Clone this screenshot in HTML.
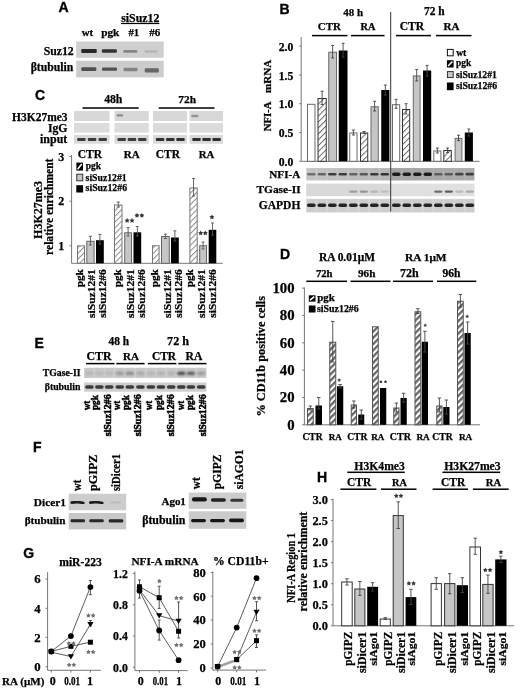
<!DOCTYPE html>
<html><head><meta charset="utf-8"><style>
html,body{margin:0;padding:0;background:#fff;}
svg{display:block;will-change:transform;}
</style></head><body>
<svg width="520" height="691" viewBox="0 0 520 691">
<defs>
<pattern id="hC" patternUnits="userSpaceOnUse" width="4.1" height="4.1" patternTransform="rotate(45)">
<rect width="4.1" height="4.1" fill="#fff"/><rect x="0" width="1" height="4.1" fill="#8c8c8c"/></pattern>
<pattern id="hB" patternUnits="userSpaceOnUse" width="4.2" height="4.2" patternTransform="rotate(45)">
<rect width="4.2" height="4.2" fill="#fff"/><rect x="0" width="1" height="4.2" fill="#6a6a6a"/></pattern>
<pattern id="hD" patternUnits="userSpaceOnUse" width="4.4" height="4.4" patternTransform="rotate(45)">
<rect width="4.4" height="4.4" fill="#fff"/><rect x="0" width="2.3" height="4.4" fill="#666"/></pattern>
<pattern id="hL" patternUnits="userSpaceOnUse" width="3.5" height="3.5" patternTransform="rotate(45)">
<rect width="3.5" height="3.5" fill="#000"/><rect x="0" width="1.3" height="3.5" fill="#fff"/></pattern>
<filter id="bl" x="-50%" y="-100%" width="200%" height="300%"><feGaussianBlur stdDeviation="0.7"/></filter>
<filter id="bl2" x="-50%" y="-100%" width="200%" height="300%"><feGaussianBlur stdDeviation="1.3"/></filter>
<filter id="bl0" x="-20%" y="-20%" width="140%" height="140%"><feGaussianBlur stdDeviation="0.5"/></filter>
</defs>
<rect width="520" height="691" fill="#fff"/>
<text x="58.40" y="12.20" style="font-family:'Liberation Sans',sans-serif;font-weight:bold;stroke:currentColor;stroke-width:0.35px;font-size:14px;color:#000" fill="#000" text-anchor="start">A</text>
<text x="121.19" y="21.60" style="font-family:'Liberation Serif',serif;font-weight:bold;stroke:currentColor;stroke-width:0.25px;font-size:11.86px;color:#000" fill="#000" text-anchor="start">siSuz12</text>
<rect x="121.00" y="22.90" width="38.40" height="1.20" fill="#000"/>
<text x="81.77" y="36.40" style="font-family:'Liberation Serif',serif;font-weight:bold;stroke:currentColor;stroke-width:0.25px;font-size:10.88px;color:#000" fill="#000" text-anchor="start">wt</text>
<text x="101.16" y="36.40" style="font-family:'Liberation Serif',serif;font-weight:bold;stroke:currentColor;stroke-width:0.25px;font-size:11.26px;color:#000" fill="#000" text-anchor="start">pgk</text>
<text x="128.46" y="36.40" style="font-family:'Liberation Serif',serif;font-weight:bold;stroke:currentColor;stroke-width:0.25px;font-size:10.8px;color:#000" fill="#000" text-anchor="start">#1</text>
<text x="149.15" y="36.40" style="font-family:'Liberation Serif',serif;font-weight:bold;stroke:currentColor;stroke-width:0.25px;font-size:11.07px;color:#000" fill="#000" text-anchor="start">#6</text>
<text x="43.67" y="55.20" style="font-family:'Liberation Serif',serif;font-weight:bold;stroke:currentColor;stroke-width:0.25px;font-size:11.75px;color:#000" fill="#000" text-anchor="start">Suz12</text>
<text x="30.64" y="71.30" style="font-family:'Liberation Serif',serif;font-weight:bold;stroke:currentColor;stroke-width:0.25px;font-size:11.74px;color:#000" fill="#000" text-anchor="start">βtubulin</text>
<rect x="76.20" y="41.50" width="87.50" height="16.30" fill="#cfcfcf" filter="url(#bl0)"/>
<rect x="76.20" y="60.70" width="87.50" height="16.70" fill="#cccccc" filter="url(#bl0)"/>
<rect x="81.25" y="49.10" width="15.50" height="4.00" rx="1.00" fill="#1c1c1c" opacity="0.92" filter="url(#bl)"/>
<rect x="101.90" y="49.20" width="15.00" height="3.60" rx="1.00" fill="#222" opacity="0.9" filter="url(#bl)"/>
<rect x="123.30" y="49.90" width="14.00" height="2.80" rx="1.00" fill="#555" opacity="0.6" filter="url(#bl)"/>
<rect x="144.70" y="50.20" width="13.00" height="2.60" rx="1.00" fill="#888" opacity="0.35" filter="url(#bl)"/>
<rect x="81.30" y="67.20" width="15.00" height="3.80" rx="1.00" fill="#333" opacity="0.8" filter="url(#bl)"/>
<rect x="102.00" y="67.40" width="15.00" height="3.40" rx="1.00" fill="#333" opacity="0.8" filter="url(#bl)"/>
<rect x="123.50" y="67.70" width="14.00" height="3.60" rx="1.00" fill="#555" opacity="0.6" filter="url(#bl)"/>
<rect x="144.80" y="68.20" width="14.00" height="4.20" rx="1.00" fill="#3a3a3a" opacity="0.7" filter="url(#bl)"/>
<text x="34.90" y="99.90" style="font-family:'Liberation Sans',sans-serif;font-weight:bold;stroke:currentColor;stroke-width:0.35px;font-size:14px;color:#000" fill="#000" text-anchor="start">C</text>
<text x="104.14" y="103.00" style="font-family:'Liberation Serif',serif;font-weight:bold;stroke:currentColor;stroke-width:0.25px;font-size:11.72px;color:#000" fill="#000" text-anchor="start">48h</text>
<text x="178.35" y="103.00" style="font-family:'Liberation Serif',serif;font-weight:bold;stroke:currentColor;stroke-width:0.25px;font-size:11.39px;color:#000" fill="#000" text-anchor="start">72h</text>
<rect x="82.50" y="107.25" width="56.20" height="1.50" fill="#000"/>
<rect x="158.70" y="107.25" width="55.80" height="1.50" fill="#000"/>
<text x="12.10" y="120.60" style="font-family:'Liberation Serif',serif;font-weight:bold;stroke:currentColor;stroke-width:0.25px;font-size:11.48px;color:#000" fill="#000" text-anchor="start">H3K27me3</text>
<text x="47.90" y="131.60" style="font-family:'Liberation Serif',serif;font-weight:bold;stroke:currentColor;stroke-width:0.25px;font-size:11.77px;color:#000" fill="#000" text-anchor="start">IgG</text>
<text x="40.04" y="143.00" style="font-family:'Liberation Serif',serif;font-weight:bold;stroke:currentColor;stroke-width:0.25px;font-size:11.94px;color:#000" fill="#000" text-anchor="start">input</text>
<rect x="74.00" y="111.00" width="35.50" height="10.00" fill="#d8d8d8" filter="url(#bl0)"/>
<rect x="74.00" y="123.00" width="35.50" height="9.50" fill="#dcdcdc" filter="url(#bl0)"/>
<rect x="74.00" y="135.00" width="35.50" height="8.70" fill="#d9d9d9" filter="url(#bl0)"/>
<rect x="77.20" y="137.90" width="8.40" height="3.20" rx="0.80" fill="#262626" opacity="0.88" filter="url(#bl)"/>
<rect x="87.85" y="137.90" width="8.40" height="3.20" rx="0.80" fill="#262626" opacity="0.88" filter="url(#bl)"/>
<rect x="98.50" y="137.90" width="8.40" height="3.20" rx="0.80" fill="#262626" opacity="0.88" filter="url(#bl)"/>
<rect x="114.50" y="111.00" width="34.30" height="10.00" fill="#d8d8d8" filter="url(#bl0)"/>
<rect x="114.50" y="123.00" width="34.30" height="9.50" fill="#dcdcdc" filter="url(#bl0)"/>
<rect x="114.50" y="135.00" width="34.30" height="8.70" fill="#d9d9d9" filter="url(#bl0)"/>
<rect x="117.46" y="137.90" width="8.40" height="3.20" rx="0.80" fill="#262626" opacity="0.88" filter="url(#bl)"/>
<rect x="127.75" y="137.90" width="8.40" height="3.20" rx="0.80" fill="#262626" opacity="0.88" filter="url(#bl)"/>
<rect x="138.04" y="137.90" width="8.40" height="3.20" rx="0.80" fill="#262626" opacity="0.88" filter="url(#bl)"/>
<rect x="153.00" y="111.00" width="34.00" height="10.00" fill="#d8d8d8" filter="url(#bl0)"/>
<rect x="153.00" y="123.00" width="34.00" height="9.50" fill="#dcdcdc" filter="url(#bl0)"/>
<rect x="153.00" y="135.00" width="34.00" height="8.70" fill="#d9d9d9" filter="url(#bl0)"/>
<rect x="155.90" y="137.90" width="8.40" height="3.20" rx="0.80" fill="#262626" opacity="0.95" filter="url(#bl)"/>
<rect x="166.10" y="137.90" width="8.40" height="3.20" rx="0.80" fill="#262626" opacity="0.95" filter="url(#bl)"/>
<rect x="176.30" y="137.90" width="8.40" height="3.20" rx="0.80" fill="#262626" opacity="0.95" filter="url(#bl)"/>
<rect x="189.50" y="111.00" width="33.50" height="10.00" fill="#d8d8d8" filter="url(#bl0)"/>
<rect x="189.50" y="123.00" width="33.50" height="9.50" fill="#dcdcdc" filter="url(#bl0)"/>
<rect x="189.50" y="135.00" width="33.50" height="8.70" fill="#d9d9d9" filter="url(#bl0)"/>
<rect x="192.30" y="137.90" width="8.40" height="3.20" rx="0.80" fill="#262626" opacity="0.95" filter="url(#bl)"/>
<rect x="202.35" y="137.90" width="8.40" height="3.20" rx="0.80" fill="#262626" opacity="0.95" filter="url(#bl)"/>
<rect x="212.40" y="137.90" width="8.40" height="3.20" rx="0.80" fill="#262626" opacity="0.95" filter="url(#bl)"/>
<rect x="116.55" y="114.20" width="6.50" height="2.40" rx="0.80" fill="#444" opacity="0.5" filter="url(#bl)"/>
<rect x="191.30" y="114.80" width="7.00" height="2.40" rx="0.80" fill="#444" opacity="0.45" filter="url(#bl)"/>
<text x="77.74" y="157.50" style="font-family:'Liberation Serif',serif;font-weight:bold;stroke:currentColor;stroke-width:0.25px;font-size:11.54px;color:#000" fill="#000" text-anchor="start">CTR</text>
<text x="123.81" y="157.50" style="font-family:'Liberation Serif',serif;font-weight:bold;stroke:currentColor;stroke-width:0.25px;font-size:11.06px;color:#000" fill="#000" text-anchor="start">RA</text>
<text x="155.74" y="157.50" style="font-family:'Liberation Serif',serif;font-weight:bold;stroke:currentColor;stroke-width:0.25px;font-size:11.49px;color:#000" fill="#000" text-anchor="start">CTR</text>
<text x="198.72" y="157.50" style="font-family:'Liberation Serif',serif;font-weight:bold;stroke:currentColor;stroke-width:0.25px;font-size:10.78px;color:#000" fill="#000" text-anchor="start">RA</text>
<line x1="71.60" y1="155.00" x2="71.60" y2="263.30" stroke="#777" stroke-width="1"/>
<line x1="71.60" y1="263.30" x2="222.70" y2="263.30" stroke="#777" stroke-width="1"/>
<line x1="69.50" y1="156.50" x2="71.60" y2="156.50" stroke="#777" stroke-width="1"/>
<text x="64.30" y="160.60" style="font-family:'Liberation Serif',serif;font-weight:bold;stroke:currentColor;stroke-width:0.25px;font-size:12px;color:#000" fill="#000" text-anchor="end">3</text>
<line x1="69.50" y1="201.20" x2="71.60" y2="201.20" stroke="#777" stroke-width="1"/>
<text x="64.30" y="205.30" style="font-family:'Liberation Serif',serif;font-weight:bold;stroke:currentColor;stroke-width:0.25px;font-size:12px;color:#000" fill="#000" text-anchor="end">2</text>
<line x1="69.50" y1="245.80" x2="71.60" y2="245.80" stroke="#777" stroke-width="1"/>
<text x="64.30" y="249.90" style="font-family:'Liberation Serif',serif;font-weight:bold;stroke:currentColor;stroke-width:0.25px;font-size:12px;color:#000" fill="#000" text-anchor="end">1</text>
<text transform="translate(42.20,238.90) rotate(-90)" style="font-family:'Liberation Serif',serif;font-weight:bold;stroke:currentColor;stroke-width:0.25px;font-size:11.8px;color:#000" fill="#000" text-anchor="start" textLength="58.02" lengthAdjust="spacingAndGlyphs">H3K27me3</text>
<text transform="translate(53.00,254.90) rotate(-90)" style="font-family:'Liberation Serif',serif;font-weight:bold;stroke:currentColor;stroke-width:0.25px;font-size:11.5px;color:#000" fill="#000" text-anchor="start" textLength="96.36" lengthAdjust="spacingAndGlyphs">relative enrichment</text>
<rect x="76.40" y="162.60" width="6.60" height="8.00" fill="#000"/>
<line x1="77.60" y1="169.20" x2="81.80" y2="164.00" stroke="#fff" stroke-width="1.5"/>
<rect x="76.80" y="174.20" width="6.00" height="6.60" fill="#c6c6c6" stroke="#222" stroke-width="0.9"/>
<rect x="76.30" y="185.20" width="6.80" height="7.30" fill="#000"/>
<text x="85.78" y="168.90" style="font-family:'Liberation Serif',serif;font-weight:bold;stroke:currentColor;stroke-width:0.25px;font-size:9.39px;color:#000" fill="#000" text-anchor="start">pgk</text>
<text x="85.61" y="180.50" style="font-family:'Liberation Serif',serif;font-weight:bold;stroke:currentColor;stroke-width:0.25px;font-size:9.73px;color:#000" fill="#000" text-anchor="start">siSuz12#1</text>
<text x="85.60" y="191.40" style="font-family:'Liberation Serif',serif;font-weight:bold;stroke:currentColor;stroke-width:0.25px;font-size:9.82px;color:#000" fill="#000" text-anchor="start">siSuz12#6</text>
<rect x="77.50" y="245.90" width="7.00" height="17.40" fill="url(#hC)" stroke="#777" stroke-width="1"/>
<rect x="86.80" y="241.30" width="7.30" height="22.00" fill="#c6c6c6" stroke="#666" stroke-width="1"/>
<line x1="90.45" y1="236.30" x2="90.45" y2="245.00" stroke="#555" stroke-width="0.9"/>
<line x1="88.95" y1="236.30" x2="91.95" y2="236.30" stroke="#555" stroke-width="0.9"/>
<line x1="88.95" y1="245.00" x2="91.95" y2="245.00" stroke="#555" stroke-width="0.9"/>
<rect x="96.00" y="240.20" width="7.80" height="23.10" fill="#000"/>
<line x1="99.90" y1="234.40" x2="99.90" y2="244.00" stroke="#555" stroke-width="0.9"/>
<line x1="98.40" y1="234.40" x2="101.40" y2="234.40" stroke="#555" stroke-width="0.9"/>
<line x1="98.40" y1="244.00" x2="101.40" y2="244.00" stroke="#555" stroke-width="0.9"/>
<rect x="114.50" y="205.00" width="7.50" height="58.30" fill="url(#hC)" stroke="#777" stroke-width="1"/>
<line x1="118.25" y1="202.00" x2="118.25" y2="207.00" stroke="#555" stroke-width="0.9"/>
<line x1="116.75" y1="202.00" x2="119.75" y2="202.00" stroke="#555" stroke-width="0.9"/>
<line x1="116.75" y1="207.00" x2="119.75" y2="207.00" stroke="#555" stroke-width="0.9"/>
<rect x="124.70" y="232.80" width="6.80" height="30.50" fill="#c6c6c6" stroke="#666" stroke-width="1"/>
<line x1="128.10" y1="227.60" x2="128.10" y2="236.00" stroke="#555" stroke-width="0.9"/>
<line x1="126.60" y1="227.60" x2="129.60" y2="227.60" stroke="#555" stroke-width="0.9"/>
<line x1="126.60" y1="236.00" x2="129.60" y2="236.00" stroke="#555" stroke-width="0.9"/>
<rect x="133.50" y="232.30" width="7.70" height="31.00" fill="#000"/>
<line x1="137.35" y1="226.50" x2="137.35" y2="236.00" stroke="#555" stroke-width="0.9"/>
<line x1="135.85" y1="226.50" x2="138.85" y2="226.50" stroke="#555" stroke-width="0.9"/>
<line x1="135.85" y1="236.00" x2="138.85" y2="236.00" stroke="#555" stroke-width="0.9"/>
<rect x="152.50" y="245.70" width="6.60" height="17.60" fill="url(#hC)" stroke="#777" stroke-width="1"/>
<rect x="161.50" y="236.50" width="7.80" height="26.80" fill="#c6c6c6" stroke="#666" stroke-width="1"/>
<line x1="165.40" y1="234.20" x2="165.40" y2="238.50" stroke="#555" stroke-width="0.9"/>
<line x1="163.90" y1="234.20" x2="166.90" y2="234.20" stroke="#555" stroke-width="0.9"/>
<line x1="163.90" y1="238.50" x2="166.90" y2="238.50" stroke="#555" stroke-width="0.9"/>
<rect x="171.00" y="237.50" width="7.80" height="25.80" fill="#000"/>
<line x1="174.90" y1="230.80" x2="174.90" y2="241.00" stroke="#555" stroke-width="0.9"/>
<line x1="173.40" y1="230.80" x2="176.40" y2="230.80" stroke="#555" stroke-width="0.9"/>
<line x1="173.40" y1="241.00" x2="176.40" y2="241.00" stroke="#555" stroke-width="0.9"/>
<rect x="189.90" y="188.00" width="7.30" height="75.30" fill="url(#hC)" stroke="#777" stroke-width="1"/>
<line x1="193.55" y1="178.50" x2="193.55" y2="196.00" stroke="#555" stroke-width="0.9"/>
<line x1="192.05" y1="178.50" x2="195.05" y2="178.50" stroke="#555" stroke-width="0.9"/>
<line x1="192.05" y1="196.00" x2="195.05" y2="196.00" stroke="#555" stroke-width="0.9"/>
<rect x="199.70" y="245.70" width="6.80" height="17.60" fill="#c6c6c6" stroke="#666" stroke-width="1"/>
<line x1="203.10" y1="242.00" x2="203.10" y2="249.00" stroke="#555" stroke-width="0.9"/>
<line x1="201.60" y1="242.00" x2="204.60" y2="242.00" stroke="#555" stroke-width="0.9"/>
<line x1="201.60" y1="249.00" x2="204.60" y2="249.00" stroke="#555" stroke-width="0.9"/>
<rect x="208.70" y="229.80" width="7.60" height="33.50" fill="#000"/>
<line x1="212.50" y1="223.00" x2="212.50" y2="235.00" stroke="#555" stroke-width="0.9"/>
<line x1="211.00" y1="223.00" x2="214.00" y2="223.00" stroke="#555" stroke-width="0.9"/>
<line x1="211.00" y1="235.00" x2="214.00" y2="235.00" stroke="#555" stroke-width="0.9"/>
<polygon points="127.15,218.00 127.99,219.44 129.62,219.80 128.51,221.04 128.68,222.70 127.15,222.03 125.62,222.70 125.79,221.04 124.68,219.80 126.31,219.44" fill="#3a3a3a"/>
<polygon points="132.05,218.00 132.89,219.44 134.52,219.80 133.41,221.04 133.58,222.70 132.05,222.03 130.52,222.70 130.69,221.04 129.58,219.80 131.21,219.44" fill="#3a3a3a"/>
<polygon points="136.95,212.90 137.79,214.34 139.42,214.70 138.31,215.94 138.48,217.60 136.95,216.93 135.42,217.60 135.59,215.94 134.48,214.70 136.11,214.34" fill="#3a3a3a"/>
<polygon points="141.85,212.90 142.69,214.34 144.32,214.70 143.21,215.94 143.38,217.60 141.85,216.93 140.32,217.60 140.49,215.94 139.38,214.70 141.01,214.34" fill="#3a3a3a"/>
<polygon points="200.70,230.50 201.54,231.94 203.17,232.30 202.06,233.54 202.23,235.20 200.70,234.53 199.17,235.20 199.34,233.54 198.23,232.30 199.86,231.94" fill="#3a3a3a"/>
<polygon points="205.30,230.50 206.14,231.94 207.77,232.30 206.66,233.54 206.83,235.20 205.30,234.53 203.77,235.20 203.94,233.54 202.83,232.30 204.46,231.94" fill="#3a3a3a"/>
<polygon points="211.90,214.50 212.74,215.94 214.37,216.30 213.26,217.54 213.43,219.20 211.90,218.53 210.37,219.20 210.54,217.54 209.43,216.30 211.06,215.94" fill="#3a3a3a"/>
<text transform="translate(83.00,269.30) rotate(-90)" style="font-family:'Liberation Serif',serif;font-weight:bold;stroke:currentColor;stroke-width:0.25px;font-size:9.6px;color:#000" fill="#000" text-anchor="end" textLength="17.96" lengthAdjust="spacingAndGlyphs">pgk</text>
<text transform="translate(95.00,269.30) rotate(-90)" style="font-family:'Liberation Serif',serif;font-weight:bold;stroke:currentColor;stroke-width:0.25px;font-size:9.6px;color:#000" fill="#000" text-anchor="end" textLength="48.64" lengthAdjust="spacingAndGlyphs">siSuz12#1</text>
<text transform="translate(106.00,269.30) rotate(-90)" style="font-family:'Liberation Serif',serif;font-weight:bold;stroke:currentColor;stroke-width:0.25px;font-size:9.6px;color:#000" fill="#000" text-anchor="end" textLength="48.38" lengthAdjust="spacingAndGlyphs">siSuz12#6</text>
<text transform="translate(121.00,269.30) rotate(-90)" style="font-family:'Liberation Serif',serif;font-weight:bold;stroke:currentColor;stroke-width:0.25px;font-size:9.6px;color:#000" fill="#000" text-anchor="end" textLength="17.96" lengthAdjust="spacingAndGlyphs">pgk</text>
<text transform="translate(133.50,269.30) rotate(-90)" style="font-family:'Liberation Serif',serif;font-weight:bold;stroke:currentColor;stroke-width:0.25px;font-size:9.6px;color:#000" fill="#000" text-anchor="end" textLength="48.64" lengthAdjust="spacingAndGlyphs">siSuz12#1</text>
<text transform="translate(144.50,269.30) rotate(-90)" style="font-family:'Liberation Serif',serif;font-weight:bold;stroke:currentColor;stroke-width:0.25px;font-size:9.6px;color:#000" fill="#000" text-anchor="end" textLength="48.38" lengthAdjust="spacingAndGlyphs">siSuz12#6</text>
<text transform="translate(157.80,269.30) rotate(-90)" style="font-family:'Liberation Serif',serif;font-weight:bold;stroke:currentColor;stroke-width:0.25px;font-size:9.6px;color:#000" fill="#000" text-anchor="end" textLength="17.96" lengthAdjust="spacingAndGlyphs">pgk</text>
<text transform="translate(170.50,269.30) rotate(-90)" style="font-family:'Liberation Serif',serif;font-weight:bold;stroke:currentColor;stroke-width:0.25px;font-size:9.6px;color:#000" fill="#000" text-anchor="end" textLength="48.64" lengthAdjust="spacingAndGlyphs">siSuz12#1</text>
<text transform="translate(181.80,269.30) rotate(-90)" style="font-family:'Liberation Serif',serif;font-weight:bold;stroke:currentColor;stroke-width:0.25px;font-size:9.6px;color:#000" fill="#000" text-anchor="end" textLength="48.38" lengthAdjust="spacingAndGlyphs">siSuz12#6</text>
<text transform="translate(192.70,269.30) rotate(-90)" style="font-family:'Liberation Serif',serif;font-weight:bold;stroke:currentColor;stroke-width:0.25px;font-size:9.6px;color:#000" fill="#000" text-anchor="end" textLength="17.96" lengthAdjust="spacingAndGlyphs">pgk</text>
<text transform="translate(205.00,269.30) rotate(-90)" style="font-family:'Liberation Serif',serif;font-weight:bold;stroke:currentColor;stroke-width:0.25px;font-size:9.6px;color:#000" fill="#000" text-anchor="end" textLength="48.64" lengthAdjust="spacingAndGlyphs">siSuz12#1</text>
<text transform="translate(216.00,269.30) rotate(-90)" style="font-family:'Liberation Serif',serif;font-weight:bold;stroke:currentColor;stroke-width:0.25px;font-size:9.6px;color:#000" fill="#000" text-anchor="end" textLength="48.38" lengthAdjust="spacingAndGlyphs">siSuz12#6</text>
<text x="279.60" y="14.20" style="font-family:'Liberation Sans',sans-serif;font-weight:bold;stroke:currentColor;stroke-width:0.35px;font-size:14px;color:#000" fill="#000" text-anchor="start">B</text>
<text x="343.15" y="15.50" style="font-family:'Liberation Serif',serif;font-weight:bold;stroke:currentColor;stroke-width:0.25px;font-size:11.03px;color:#000" fill="#000" text-anchor="start">48 h</text>
<text x="424.05" y="15.00" style="font-family:'Liberation Serif',serif;font-weight:bold;stroke:currentColor;stroke-width:0.25px;font-size:11.42px;color:#000" fill="#000" text-anchor="start">72 h</text>
<text x="317.77" y="30.00" style="font-family:'Liberation Serif',serif;font-weight:bold;stroke:currentColor;stroke-width:0.25px;font-size:10.91px;color:#000" fill="#000" text-anchor="start">CTR</text>
<text x="360.62" y="30.00" style="font-family:'Liberation Serif',serif;font-weight:bold;stroke:currentColor;stroke-width:0.25px;font-size:10.28px;color:#000" fill="#000" text-anchor="start">RA</text>
<text x="399.73" y="29.80" style="font-family:'Liberation Serif',serif;font-weight:bold;stroke:currentColor;stroke-width:0.25px;font-size:11.59px;color:#000" fill="#000" text-anchor="start">CTR</text>
<text x="443.41" y="29.80" style="font-family:'Liberation Serif',serif;font-weight:bold;stroke:currentColor;stroke-width:0.25px;font-size:11.06px;color:#000" fill="#000" text-anchor="start">RA</text>
<rect x="312.00" y="34.85" width="35.50" height="1.50" fill="#000"/>
<rect x="351.00" y="34.85" width="33.50" height="1.50" fill="#000"/>
<rect x="396.00" y="34.85" width="35.00" height="1.50" fill="#000"/>
<rect x="436.00" y="34.85" width="35.50" height="1.50" fill="#000"/>
<line x1="301.20" y1="37.00" x2="301.20" y2="161.30" stroke="#777" stroke-width="1"/>
<line x1="301.20" y1="161.30" x2="479.60" y2="161.30" stroke="#777" stroke-width="1"/>
<line x1="299.20" y1="161.30" x2="301.20" y2="161.30" stroke="#777" stroke-width="1"/>
<text x="293.30" y="165.90" style="font-family:'Liberation Serif',serif;font-weight:bold;stroke:currentColor;stroke-width:0.25px;font-size:11.7px;color:#000" fill="#000" text-anchor="end">0.0</text>
<line x1="299.20" y1="132.50" x2="301.20" y2="132.50" stroke="#777" stroke-width="1"/>
<text x="293.30" y="137.10" style="font-family:'Liberation Serif',serif;font-weight:bold;stroke:currentColor;stroke-width:0.25px;font-size:11.7px;color:#000" fill="#000" text-anchor="end">0.5</text>
<line x1="299.20" y1="103.70" x2="301.20" y2="103.70" stroke="#777" stroke-width="1"/>
<text x="293.30" y="108.30" style="font-family:'Liberation Serif',serif;font-weight:bold;stroke:currentColor;stroke-width:0.25px;font-size:11.7px;color:#000" fill="#000" text-anchor="end">1.0</text>
<line x1="299.20" y1="74.90" x2="301.20" y2="74.90" stroke="#777" stroke-width="1"/>
<text x="293.30" y="79.50" style="font-family:'Liberation Serif',serif;font-weight:bold;stroke:currentColor;stroke-width:0.25px;font-size:11.7px;color:#000" fill="#000" text-anchor="end">1.5</text>
<line x1="299.20" y1="46.10" x2="301.20" y2="46.10" stroke="#777" stroke-width="1"/>
<text x="293.30" y="50.70" style="font-family:'Liberation Serif',serif;font-weight:bold;stroke:currentColor;stroke-width:0.25px;font-size:11.7px;color:#000" fill="#000" text-anchor="end">2.0</text>
<text transform="translate(271.00,131.30) rotate(-90)" style="font-family:'Liberation Serif',serif;font-weight:bold;stroke:currentColor;stroke-width:0.25px;font-size:10.8px;color:#000" fill="#000" text-anchor="start" textLength="29.68" lengthAdjust="spacingAndGlyphs">NFI-A</text>
<text transform="translate(271.00,92.90) rotate(-90)" style="font-family:'Liberation Serif',serif;font-weight:bold;stroke:currentColor;stroke-width:0.25px;font-size:10.8px;color:#000" fill="#000" text-anchor="start" textLength="33.18" lengthAdjust="spacingAndGlyphs">mRNA</text>
<rect x="307.50" y="104.30" width="7.50" height="57.00" fill="#fff" stroke="#6a6a6a" stroke-width="1"/>
<rect x="318.00" y="98.50" width="8.25" height="62.80" fill="url(#hB)" stroke="#333" stroke-width="1"/>
<line x1="322.12" y1="91.25" x2="322.12" y2="104.50" stroke="#444" stroke-width="0.9"/>
<line x1="320.62" y1="91.25" x2="323.62" y2="91.25" stroke="#444" stroke-width="0.9"/>
<line x1="320.62" y1="104.50" x2="323.62" y2="104.50" stroke="#444" stroke-width="0.9"/>
<rect x="328.75" y="52.25" width="7.75" height="109.05" fill="#c6c6c6" stroke="#6a6a6a" stroke-width="1"/>
<line x1="332.62" y1="45.50" x2="332.62" y2="58.00" stroke="#444" stroke-width="0.9"/>
<line x1="331.12" y1="45.50" x2="334.12" y2="45.50" stroke="#444" stroke-width="0.9"/>
<line x1="331.12" y1="58.00" x2="334.12" y2="58.00" stroke="#444" stroke-width="0.9"/>
<rect x="338.75" y="50.50" width="8.75" height="110.80" fill="#000"/>
<line x1="343.12" y1="43.30" x2="343.12" y2="57.00" stroke="#444" stroke-width="0.9"/>
<line x1="341.62" y1="43.30" x2="344.62" y2="43.30" stroke="#444" stroke-width="0.9"/>
<line x1="341.62" y1="57.00" x2="344.62" y2="57.00" stroke="#444" stroke-width="0.9"/>
<rect x="349.75" y="133.00" width="7.25" height="28.30" fill="#fff" stroke="#6a6a6a" stroke-width="1"/>
<line x1="353.38" y1="130.00" x2="353.38" y2="135.00" stroke="#444" stroke-width="0.9"/>
<line x1="351.88" y1="130.00" x2="354.88" y2="130.00" stroke="#444" stroke-width="0.9"/>
<line x1="351.88" y1="135.00" x2="354.88" y2="135.00" stroke="#444" stroke-width="0.9"/>
<rect x="360.50" y="133.00" width="7.25" height="28.30" fill="url(#hB)" stroke="#333" stroke-width="1"/>
<line x1="364.12" y1="131.50" x2="364.12" y2="133.50" stroke="#444" stroke-width="0.9"/>
<line x1="362.62" y1="131.50" x2="365.62" y2="131.50" stroke="#444" stroke-width="0.9"/>
<line x1="362.62" y1="133.50" x2="365.62" y2="133.50" stroke="#444" stroke-width="0.9"/>
<rect x="371.00" y="106.75" width="7.25" height="54.55" fill="#c6c6c6" stroke="#6a6a6a" stroke-width="1"/>
<line x1="374.62" y1="101.25" x2="374.62" y2="111.00" stroke="#444" stroke-width="0.9"/>
<line x1="373.12" y1="101.25" x2="376.12" y2="101.25" stroke="#444" stroke-width="0.9"/>
<line x1="373.12" y1="111.00" x2="376.12" y2="111.00" stroke="#444" stroke-width="0.9"/>
<rect x="381.25" y="90.00" width="8.15" height="71.30" fill="#000"/>
<line x1="385.32" y1="85.00" x2="385.32" y2="95.00" stroke="#444" stroke-width="0.9"/>
<line x1="383.82" y1="85.00" x2="386.82" y2="85.00" stroke="#444" stroke-width="0.9"/>
<line x1="383.82" y1="95.00" x2="386.82" y2="95.00" stroke="#444" stroke-width="0.9"/>
<rect x="392.50" y="104.70" width="7.20" height="56.60" fill="#fff" stroke="#6a6a6a" stroke-width="1"/>
<line x1="396.10" y1="99.40" x2="396.10" y2="108.30" stroke="#444" stroke-width="0.9"/>
<line x1="394.60" y1="99.40" x2="397.60" y2="99.40" stroke="#444" stroke-width="0.9"/>
<line x1="394.60" y1="108.30" x2="397.60" y2="108.30" stroke="#444" stroke-width="0.9"/>
<rect x="402.50" y="109.50" width="7.20" height="51.80" fill="url(#hB)" stroke="#333" stroke-width="1"/>
<line x1="406.10" y1="103.70" x2="406.10" y2="114.00" stroke="#444" stroke-width="0.9"/>
<line x1="404.60" y1="103.70" x2="407.60" y2="103.70" stroke="#444" stroke-width="0.9"/>
<line x1="404.60" y1="114.00" x2="407.60" y2="114.00" stroke="#444" stroke-width="0.9"/>
<rect x="413.30" y="75.90" width="6.80" height="85.40" fill="#c6c6c6" stroke="#6a6a6a" stroke-width="1"/>
<line x1="416.70" y1="69.50" x2="416.70" y2="81.00" stroke="#444" stroke-width="0.9"/>
<line x1="415.20" y1="69.50" x2="418.20" y2="69.50" stroke="#444" stroke-width="0.9"/>
<line x1="415.20" y1="81.00" x2="418.20" y2="81.00" stroke="#444" stroke-width="0.9"/>
<rect x="423.00" y="70.50" width="8.20" height="90.80" fill="#000"/>
<line x1="427.10" y1="65.40" x2="427.10" y2="76.00" stroke="#444" stroke-width="0.9"/>
<line x1="425.60" y1="65.40" x2="428.60" y2="65.40" stroke="#444" stroke-width="0.9"/>
<line x1="425.60" y1="76.00" x2="428.60" y2="76.00" stroke="#444" stroke-width="0.9"/>
<rect x="433.80" y="151.00" width="7.10" height="10.30" fill="#fff" stroke="#6a6a6a" stroke-width="1"/>
<line x1="437.35" y1="148.00" x2="437.35" y2="153.00" stroke="#444" stroke-width="0.9"/>
<line x1="435.85" y1="148.00" x2="438.85" y2="148.00" stroke="#444" stroke-width="0.9"/>
<line x1="435.85" y1="153.00" x2="438.85" y2="153.00" stroke="#444" stroke-width="0.9"/>
<rect x="443.80" y="150.50" width="7.50" height="10.80" fill="url(#hB)" stroke="#333" stroke-width="1"/>
<line x1="447.55" y1="148.00" x2="447.55" y2="152.50" stroke="#444" stroke-width="0.9"/>
<line x1="446.05" y1="148.00" x2="449.05" y2="148.00" stroke="#444" stroke-width="0.9"/>
<line x1="446.05" y1="152.50" x2="449.05" y2="152.50" stroke="#444" stroke-width="0.9"/>
<rect x="455.10" y="138.40" width="6.80" height="22.90" fill="#c6c6c6" stroke="#6a6a6a" stroke-width="1"/>
<line x1="458.50" y1="135.20" x2="458.50" y2="140.60" stroke="#444" stroke-width="0.9"/>
<line x1="457.00" y1="135.20" x2="460.00" y2="135.20" stroke="#444" stroke-width="0.9"/>
<line x1="457.00" y1="140.60" x2="460.00" y2="140.60" stroke="#444" stroke-width="0.9"/>
<rect x="464.80" y="132.50" width="8.10" height="28.80" fill="#000"/>
<line x1="468.85" y1="129.00" x2="468.85" y2="136.00" stroke="#444" stroke-width="0.9"/>
<line x1="467.35" y1="129.00" x2="470.35" y2="129.00" stroke="#444" stroke-width="0.9"/>
<line x1="467.35" y1="136.00" x2="470.35" y2="136.00" stroke="#444" stroke-width="0.9"/>
<rect x="447.40" y="49.40" width="5.80" height="6.40" fill="#fff" stroke="#111" stroke-width="1"/>
<rect x="446.90" y="60.20" width="6.70" height="7.30" fill="#000"/>
<line x1="448.10" y1="66.10" x2="452.40" y2="61.60" stroke="#fff" stroke-width="1.5"/>
<rect x="447.40" y="71.60" width="5.80" height="6.00" fill="#c6c6c6" stroke="#222" stroke-width="0.9"/>
<rect x="446.90" y="82.50" width="6.70" height="7.70" fill="#000"/>
<text x="456.17" y="55.60" style="font-family:'Liberation Serif',serif;font-weight:bold;stroke:currentColor;stroke-width:0.25px;font-size:9.64px;color:#000" fill="#000" text-anchor="start">wt</text>
<text x="456.08" y="66.00" style="font-family:'Liberation Serif',serif;font-weight:bold;stroke:currentColor;stroke-width:0.25px;font-size:9.32px;color:#000" fill="#000" text-anchor="start">pgk</text>
<text x="455.91" y="78.10" style="font-family:'Liberation Serif',serif;font-weight:bold;stroke:currentColor;stroke-width:0.25px;font-size:9.73px;color:#000" fill="#000" text-anchor="start">siSuz12#1</text>
<text x="455.90" y="88.60" style="font-family:'Liberation Serif',serif;font-weight:bold;stroke:currentColor;stroke-width:0.25px;font-size:9.75px;color:#000" fill="#000" text-anchor="start">siSuz12#6</text>
<text x="269.29" y="178.20" style="font-family:'Liberation Serif',serif;font-weight:bold;stroke:currentColor;stroke-width:0.25px;font-size:11.16px;color:#000" fill="#000" text-anchor="start">NFI-A</text>
<text x="256.52" y="193.00" style="font-family:'Liberation Serif',serif;font-weight:bold;stroke:currentColor;stroke-width:0.25px;font-size:11.33px;color:#000" fill="#000" text-anchor="start">TGase-II</text>
<text x="258.84" y="208.70" style="font-family:'Liberation Serif',serif;font-weight:bold;stroke:currentColor;stroke-width:0.25px;font-size:11.51px;color:#000" fill="#000" text-anchor="start">GAPDH</text>
<linearGradient id="gN1" x1="0" x2="1" y1="0" y2="0"><stop offset="0" stop-color="#cdcdcd"/><stop offset="1" stop-color="#bcbcbc"/></linearGradient>
<linearGradient id="gN2" x1="0" x2="1" y1="0" y2="0"><stop offset="0" stop-color="#a9a9a9"/><stop offset="1" stop-color="#b4b4b4"/></linearGradient>
<rect x="306.20" y="168.00" width="84.50" height="12.50" fill="url(#gN1)" filter="url(#bl0)"/>
<rect x="390.50" y="168.00" width="84.00" height="12.50" fill="url(#gN2)" filter="url(#bl0)"/>
<rect x="306.20" y="183.60" width="84.50" height="12.60" fill="#d9d9d9" filter="url(#bl0)"/>
<rect x="390.50" y="183.60" width="84.00" height="12.60" fill="#e0e0e0" filter="url(#bl0)"/>
<rect x="306.20" y="198.80" width="168.30" height="13.70" fill="#d6d6d6" filter="url(#bl0)"/>
<rect x="306.70" y="168.5" width="9.2" height="11.5" fill="#000" opacity="0.04"/>
<rect x="306.70" y="199.3" width="9.2" height="12.7" fill="#000" opacity="0.04"/>
<rect x="317.20" y="168.5" width="9.2" height="11.5" fill="#000" opacity="0.04"/>
<rect x="317.20" y="199.3" width="9.2" height="12.7" fill="#000" opacity="0.04"/>
<rect x="327.70" y="168.5" width="9.2" height="11.5" fill="#000" opacity="0.04"/>
<rect x="327.70" y="199.3" width="9.2" height="12.7" fill="#000" opacity="0.04"/>
<rect x="338.20" y="168.5" width="9.2" height="11.5" fill="#000" opacity="0.04"/>
<rect x="338.20" y="199.3" width="9.2" height="12.7" fill="#000" opacity="0.04"/>
<rect x="348.70" y="168.5" width="9.2" height="11.5" fill="#000" opacity="0.04"/>
<rect x="348.70" y="199.3" width="9.2" height="12.7" fill="#000" opacity="0.04"/>
<rect x="359.20" y="168.5" width="9.2" height="11.5" fill="#000" opacity="0.04"/>
<rect x="359.20" y="199.3" width="9.2" height="12.7" fill="#000" opacity="0.04"/>
<rect x="369.70" y="168.5" width="9.2" height="11.5" fill="#000" opacity="0.04"/>
<rect x="369.70" y="199.3" width="9.2" height="12.7" fill="#000" opacity="0.04"/>
<rect x="380.20" y="168.5" width="9.2" height="11.5" fill="#000" opacity="0.04"/>
<rect x="380.20" y="199.3" width="9.2" height="12.7" fill="#000" opacity="0.04"/>
<rect x="391.70" y="168.5" width="9.2" height="11.5" fill="#000" opacity="0.04"/>
<rect x="391.70" y="199.3" width="9.2" height="12.7" fill="#000" opacity="0.04"/>
<rect x="402.20" y="168.5" width="9.2" height="11.5" fill="#000" opacity="0.04"/>
<rect x="402.20" y="199.3" width="9.2" height="12.7" fill="#000" opacity="0.04"/>
<rect x="412.70" y="168.5" width="9.2" height="11.5" fill="#000" opacity="0.04"/>
<rect x="412.70" y="199.3" width="9.2" height="12.7" fill="#000" opacity="0.04"/>
<rect x="423.20" y="168.5" width="9.2" height="11.5" fill="#000" opacity="0.04"/>
<rect x="423.20" y="199.3" width="9.2" height="12.7" fill="#000" opacity="0.04"/>
<rect x="433.70" y="168.5" width="9.2" height="11.5" fill="#000" opacity="0.04"/>
<rect x="433.70" y="199.3" width="9.2" height="12.7" fill="#000" opacity="0.04"/>
<rect x="444.20" y="168.5" width="9.2" height="11.5" fill="#000" opacity="0.04"/>
<rect x="444.20" y="199.3" width="9.2" height="12.7" fill="#000" opacity="0.04"/>
<rect x="454.70" y="168.5" width="9.2" height="11.5" fill="#000" opacity="0.04"/>
<rect x="454.70" y="199.3" width="9.2" height="12.7" fill="#000" opacity="0.04"/>
<rect x="465.20" y="168.5" width="9.2" height="11.5" fill="#000" opacity="0.04"/>
<rect x="465.20" y="199.3" width="9.2" height="12.7" fill="#000" opacity="0.04"/>
<rect x="307.10" y="172.90" width="8.40" height="2.60" rx="1.30" fill="#1e1e1e" opacity="0.5" filter="url(#bl)"/>
<rect x="307.00" y="203.60" width="8.60" height="3.40" rx="1.70" fill="#1a1a1a" opacity="0.95" filter="url(#bl)"/>
<rect x="317.60" y="172.90" width="8.40" height="2.60" rx="1.30" fill="#1e1e1e" opacity="0.55" filter="url(#bl)"/>
<rect x="317.50" y="203.60" width="8.60" height="3.40" rx="1.70" fill="#1a1a1a" opacity="0.95" filter="url(#bl)"/>
<rect x="328.10" y="172.90" width="8.40" height="2.60" rx="1.30" fill="#1e1e1e" opacity="0.8" filter="url(#bl)"/>
<rect x="328.00" y="203.60" width="8.60" height="3.40" rx="1.70" fill="#1a1a1a" opacity="0.95" filter="url(#bl)"/>
<rect x="338.60" y="172.90" width="8.40" height="2.60" rx="1.30" fill="#1e1e1e" opacity="0.8" filter="url(#bl)"/>
<rect x="338.50" y="203.60" width="8.60" height="3.40" rx="1.70" fill="#1a1a1a" opacity="0.95" filter="url(#bl)"/>
<rect x="349.10" y="172.90" width="8.40" height="2.60" rx="1.30" fill="#1e1e1e" opacity="0.55" filter="url(#bl)"/>
<rect x="349.00" y="203.60" width="8.60" height="3.40" rx="1.70" fill="#1a1a1a" opacity="0.95" filter="url(#bl)"/>
<rect x="359.60" y="172.90" width="8.40" height="2.60" rx="1.30" fill="#1e1e1e" opacity="0.6" filter="url(#bl)"/>
<rect x="359.50" y="203.60" width="8.60" height="3.40" rx="1.70" fill="#1a1a1a" opacity="0.95" filter="url(#bl)"/>
<rect x="370.10" y="172.90" width="8.40" height="2.60" rx="1.30" fill="#1e1e1e" opacity="0.8" filter="url(#bl)"/>
<rect x="370.00" y="203.60" width="8.60" height="3.40" rx="1.70" fill="#1a1a1a" opacity="0.95" filter="url(#bl)"/>
<rect x="380.60" y="172.90" width="8.40" height="2.60" rx="1.30" fill="#1e1e1e" opacity="0.85" filter="url(#bl)"/>
<rect x="380.50" y="203.60" width="8.60" height="3.40" rx="1.70" fill="#1a1a1a" opacity="0.95" filter="url(#bl)"/>
<rect x="392.10" y="172.50" width="8.40" height="3.40" rx="1.70" fill="#1e1e1e" opacity="1.0" filter="url(#bl)"/>
<rect x="392.00" y="203.60" width="8.60" height="3.40" rx="1.70" fill="#1a1a1a" opacity="0.95" filter="url(#bl)"/>
<rect x="402.60" y="172.50" width="8.40" height="3.40" rx="1.70" fill="#1e1e1e" opacity="1.0" filter="url(#bl)"/>
<rect x="402.50" y="203.60" width="8.60" height="3.40" rx="1.70" fill="#1a1a1a" opacity="0.95" filter="url(#bl)"/>
<rect x="413.10" y="172.40" width="8.40" height="3.60" rx="1.80" fill="#1e1e1e" opacity="1.0" filter="url(#bl)"/>
<rect x="413.00" y="203.60" width="8.60" height="3.40" rx="1.70" fill="#1a1a1a" opacity="0.95" filter="url(#bl)"/>
<rect x="423.60" y="172.50" width="8.40" height="3.40" rx="1.70" fill="#1e1e1e" opacity="1.0" filter="url(#bl)"/>
<rect x="423.50" y="203.60" width="8.60" height="3.40" rx="1.70" fill="#1a1a1a" opacity="0.95" filter="url(#bl)"/>
<rect x="434.10" y="172.90" width="8.40" height="2.60" rx="1.30" fill="#1e1e1e" opacity="0.55" filter="url(#bl)"/>
<rect x="434.00" y="203.60" width="8.60" height="3.40" rx="1.70" fill="#1a1a1a" opacity="0.95" filter="url(#bl)"/>
<rect x="444.60" y="172.90" width="8.40" height="2.60" rx="1.30" fill="#1e1e1e" opacity="0.55" filter="url(#bl)"/>
<rect x="444.50" y="203.60" width="8.60" height="3.40" rx="1.70" fill="#1a1a1a" opacity="0.95" filter="url(#bl)"/>
<rect x="455.10" y="172.80" width="8.40" height="2.80" rx="1.40" fill="#1e1e1e" opacity="0.7" filter="url(#bl)"/>
<rect x="455.00" y="203.60" width="8.60" height="3.40" rx="1.70" fill="#1a1a1a" opacity="0.95" filter="url(#bl)"/>
<rect x="465.60" y="172.80" width="8.40" height="2.80" rx="1.40" fill="#1e1e1e" opacity="0.75" filter="url(#bl)"/>
<rect x="465.50" y="203.60" width="8.60" height="3.40" rx="1.70" fill="#1a1a1a" opacity="0.95" filter="url(#bl)"/>
<rect x="349.30" y="190.40" width="8.00" height="2.40" rx="1.20" fill="#333" opacity="0.35" filter="url(#bl)"/>
<rect x="359.80" y="190.40" width="8.00" height="2.40" rx="1.20" fill="#333" opacity="0.4" filter="url(#bl)"/>
<rect x="370.30" y="190.40" width="8.00" height="2.40" rx="1.20" fill="#333" opacity="0.2" filter="url(#bl)"/>
<rect x="380.80" y="190.40" width="8.00" height="2.40" rx="1.20" fill="#333" opacity="0.15" filter="url(#bl)"/>
<rect x="434.30" y="190.40" width="8.00" height="2.40" rx="1.20" fill="#333" opacity="0.65" filter="url(#bl)"/>
<rect x="444.80" y="190.40" width="8.00" height="2.40" rx="1.20" fill="#333" opacity="0.75" filter="url(#bl)"/>
<rect x="455.30" y="190.40" width="8.00" height="2.40" rx="1.20" fill="#333" opacity="0.2" filter="url(#bl)"/>
<rect x="465.80" y="190.40" width="8.00" height="2.40" rx="1.20" fill="#333" opacity="0.3" filter="url(#bl)"/>
<line x1="390.70" y1="12.00" x2="390.70" y2="211.50" stroke="#333" stroke-width="1"/>
<text x="280.10" y="258.60" style="font-family:'Liberation Sans',sans-serif;font-weight:bold;stroke:currentColor;stroke-width:0.35px;font-size:14px;color:#000" fill="#000" text-anchor="start">D</text>
<text x="318.90" y="261.30" style="font-family:'Liberation Serif',serif;font-weight:bold;stroke:currentColor;stroke-width:0.25px;font-size:11.45px;color:#000" fill="#000" text-anchor="start">RA 0.01μM</text>
<text x="405.11" y="261.30" style="font-family:'Liberation Serif',serif;font-weight:bold;stroke:currentColor;stroke-width:0.25px;font-size:11.37px;color:#000" fill="#000" text-anchor="start">RA 1μM</text>
<text x="315.89" y="277.20" style="font-family:'Liberation Serif',serif;font-weight:bold;stroke:currentColor;stroke-width:0.25px;font-size:10.65px;color:#000" fill="#000" text-anchor="start">72h</text>
<text x="357.99" y="277.20" style="font-family:'Liberation Serif',serif;font-weight:bold;stroke:currentColor;stroke-width:0.25px;font-size:11.23px;color:#000" fill="#000" text-anchor="start">96h</text>
<text x="400.11" y="277.40" style="font-family:'Liberation Serif',serif;font-weight:bold;stroke:currentColor;stroke-width:0.25px;font-size:12.0px;color:#000" fill="#000" text-anchor="start">72h</text>
<text x="442.48" y="277.40" style="font-family:'Liberation Serif',serif;font-weight:bold;stroke:currentColor;stroke-width:0.25px;font-size:11.56px;color:#000" fill="#000" text-anchor="start">96h</text>
<rect x="306.30" y="280.55" width="40.70" height="1.50" fill="#000"/>
<rect x="350.50" y="280.55" width="40.00" height="1.50" fill="#000"/>
<rect x="393.00" y="280.55" width="40.00" height="1.50" fill="#000"/>
<rect x="437.00" y="280.55" width="39.30" height="1.50" fill="#000"/>
<line x1="304.40" y1="287.50" x2="304.40" y2="424.80" stroke="#777" stroke-width="1"/>
<line x1="304.40" y1="424.80" x2="480.00" y2="424.80" stroke="#777" stroke-width="1"/>
<line x1="302.20" y1="424.80" x2="304.40" y2="424.80" stroke="#777" stroke-width="1"/>
<text x="294.60" y="429.80" style="font-family:'Liberation Serif',serif;font-weight:bold;stroke:currentColor;stroke-width:0.25px;font-size:14.8px;color:#000" fill="#000" text-anchor="end">0</text>
<line x1="302.20" y1="397.47" x2="304.40" y2="397.47" stroke="#777" stroke-width="1"/>
<text x="294.60" y="402.47" style="font-family:'Liberation Serif',serif;font-weight:bold;stroke:currentColor;stroke-width:0.25px;font-size:14.8px;color:#000" fill="#000" text-anchor="end">20</text>
<line x1="302.20" y1="370.14" x2="304.40" y2="370.14" stroke="#777" stroke-width="1"/>
<text x="294.60" y="375.14" style="font-family:'Liberation Serif',serif;font-weight:bold;stroke:currentColor;stroke-width:0.25px;font-size:14.8px;color:#000" fill="#000" text-anchor="end">40</text>
<line x1="302.20" y1="342.81" x2="304.40" y2="342.81" stroke="#777" stroke-width="1"/>
<text x="294.60" y="347.81" style="font-family:'Liberation Serif',serif;font-weight:bold;stroke:currentColor;stroke-width:0.25px;font-size:14.8px;color:#000" fill="#000" text-anchor="end">60</text>
<line x1="302.20" y1="315.48" x2="304.40" y2="315.48" stroke="#777" stroke-width="1"/>
<text x="294.60" y="320.48" style="font-family:'Liberation Serif',serif;font-weight:bold;stroke:currentColor;stroke-width:0.25px;font-size:14.8px;color:#000" fill="#000" text-anchor="end">80</text>
<line x1="302.20" y1="288.15" x2="304.40" y2="288.15" stroke="#777" stroke-width="1"/>
<text x="294.60" y="293.15" style="font-family:'Liberation Serif',serif;font-weight:bold;stroke:currentColor;stroke-width:0.25px;font-size:14.8px;color:#000" fill="#000" text-anchor="end">100</text>
<text transform="translate(265.40,416.50) rotate(-90)" style="font-family:'Liberation Serif',serif;font-weight:bold;stroke:currentColor;stroke-width:0.25px;font-size:11.5px;color:#000" fill="#000" text-anchor="start" textLength="120.55" lengthAdjust="spacingAndGlyphs">% CD11b positive cells</text>
<rect x="307.50" y="408.50" width="5.75" height="16.30" fill="url(#hD)" stroke="#555" stroke-width="1"/>
<line x1="310.38" y1="406.00" x2="310.38" y2="410.00" stroke="#444" stroke-width="0.9"/>
<line x1="308.62" y1="406.00" x2="312.12" y2="406.00" stroke="#444" stroke-width="0.9"/>
<line x1="308.62" y1="410.00" x2="312.12" y2="410.00" stroke="#444" stroke-width="0.9"/>
<rect x="315.50" y="405.50" width="6.50" height="19.30" fill="#000"/>
<line x1="318.75" y1="397.50" x2="318.75" y2="409.00" stroke="#444" stroke-width="0.9"/>
<line x1="317.00" y1="397.50" x2="320.50" y2="397.50" stroke="#444" stroke-width="0.9"/>
<line x1="317.00" y1="409.00" x2="320.50" y2="409.00" stroke="#444" stroke-width="0.9"/>
<rect x="329.75" y="342.25" width="6.00" height="82.55" fill="url(#hD)" stroke="#555" stroke-width="1"/>
<line x1="332.75" y1="321.40" x2="332.75" y2="362.00" stroke="#444" stroke-width="0.9"/>
<line x1="331.00" y1="321.40" x2="334.50" y2="321.40" stroke="#444" stroke-width="0.9"/>
<line x1="331.00" y1="362.00" x2="334.50" y2="362.00" stroke="#444" stroke-width="0.9"/>
<rect x="337.00" y="386.25" width="6.25" height="38.55" fill="#000"/>
<line x1="340.12" y1="384.50" x2="340.12" y2="388.00" stroke="#444" stroke-width="0.9"/>
<line x1="338.38" y1="384.50" x2="341.88" y2="384.50" stroke="#444" stroke-width="0.9"/>
<line x1="338.38" y1="388.00" x2="341.88" y2="388.00" stroke="#444" stroke-width="0.9"/>
<rect x="351.25" y="405.00" width="5.25" height="19.80" fill="url(#hD)" stroke="#555" stroke-width="1"/>
<line x1="353.88" y1="401.00" x2="353.88" y2="408.00" stroke="#444" stroke-width="0.9"/>
<line x1="352.12" y1="401.00" x2="355.62" y2="401.00" stroke="#444" stroke-width="0.9"/>
<line x1="352.12" y1="408.00" x2="355.62" y2="408.00" stroke="#444" stroke-width="0.9"/>
<rect x="358.25" y="414.50" width="6.00" height="10.30" fill="#000"/>
<line x1="361.25" y1="410.00" x2="361.25" y2="419.00" stroke="#444" stroke-width="0.9"/>
<line x1="359.50" y1="410.00" x2="363.00" y2="410.00" stroke="#444" stroke-width="0.9"/>
<line x1="359.50" y1="419.00" x2="363.00" y2="419.00" stroke="#444" stroke-width="0.9"/>
<rect x="372.50" y="326.75" width="5.75" height="98.05" fill="url(#hD)" stroke="#555" stroke-width="1"/>
<rect x="380.00" y="388.00" width="6.25" height="36.80" fill="#000"/>
<rect x="393.75" y="408.00" width="5.25" height="16.80" fill="url(#hD)" stroke="#555" stroke-width="1"/>
<line x1="396.38" y1="403.00" x2="396.38" y2="412.00" stroke="#444" stroke-width="0.9"/>
<line x1="394.62" y1="403.00" x2="398.12" y2="403.00" stroke="#444" stroke-width="0.9"/>
<line x1="394.62" y1="412.00" x2="398.12" y2="412.00" stroke="#444" stroke-width="0.9"/>
<rect x="400.50" y="398.00" width="6.25" height="26.80" fill="#000"/>
<line x1="403.62" y1="393.25" x2="403.62" y2="402.00" stroke="#444" stroke-width="0.9"/>
<line x1="401.88" y1="393.25" x2="405.38" y2="393.25" stroke="#444" stroke-width="0.9"/>
<line x1="401.88" y1="402.00" x2="405.38" y2="402.00" stroke="#444" stroke-width="0.9"/>
<rect x="415.00" y="311.75" width="5.75" height="113.05" fill="url(#hD)" stroke="#555" stroke-width="1"/>
<line x1="417.88" y1="308.75" x2="417.88" y2="313.50" stroke="#444" stroke-width="0.9"/>
<line x1="416.12" y1="308.75" x2="419.62" y2="308.75" stroke="#444" stroke-width="0.9"/>
<line x1="416.12" y1="313.50" x2="419.62" y2="313.50" stroke="#444" stroke-width="0.9"/>
<rect x="421.75" y="341.75" width="6.25" height="83.05" fill="#000"/>
<line x1="424.88" y1="331.25" x2="424.88" y2="352.00" stroke="#444" stroke-width="0.9"/>
<line x1="423.12" y1="331.25" x2="426.62" y2="331.25" stroke="#444" stroke-width="0.9"/>
<line x1="423.12" y1="352.00" x2="426.62" y2="352.00" stroke="#444" stroke-width="0.9"/>
<rect x="436.75" y="406.00" width="5.25" height="18.80" fill="url(#hD)" stroke="#555" stroke-width="1"/>
<line x1="439.38" y1="398.00" x2="439.38" y2="412.00" stroke="#444" stroke-width="0.9"/>
<line x1="437.62" y1="398.00" x2="441.12" y2="398.00" stroke="#444" stroke-width="0.9"/>
<line x1="437.62" y1="412.00" x2="441.12" y2="412.00" stroke="#444" stroke-width="0.9"/>
<rect x="443.25" y="407.00" width="6.25" height="17.80" fill="#000"/>
<line x1="446.38" y1="400.00" x2="446.38" y2="414.00" stroke="#444" stroke-width="0.9"/>
<line x1="444.62" y1="400.00" x2="448.12" y2="400.00" stroke="#444" stroke-width="0.9"/>
<line x1="444.62" y1="414.00" x2="448.12" y2="414.00" stroke="#444" stroke-width="0.9"/>
<rect x="457.50" y="301.25" width="5.75" height="123.55" fill="url(#hD)" stroke="#555" stroke-width="1"/>
<line x1="460.38" y1="294.50" x2="460.38" y2="307.00" stroke="#444" stroke-width="0.9"/>
<line x1="458.62" y1="294.50" x2="462.12" y2="294.50" stroke="#444" stroke-width="0.9"/>
<line x1="458.62" y1="307.00" x2="462.12" y2="307.00" stroke="#444" stroke-width="0.9"/>
<rect x="464.50" y="333.00" width="6.25" height="91.80" fill="#000"/>
<line x1="467.62" y1="322.00" x2="467.62" y2="344.00" stroke="#444" stroke-width="0.9"/>
<line x1="465.88" y1="322.00" x2="469.38" y2="322.00" stroke="#444" stroke-width="0.9"/>
<line x1="465.88" y1="344.00" x2="469.38" y2="344.00" stroke="#444" stroke-width="0.9"/>
<polygon points="339.20,378.30 339.81,379.35 341.01,379.61 340.19,380.52 340.32,381.74 339.20,381.25 338.08,381.74 338.21,380.52 337.39,379.61 338.59,379.35" fill="#3a3a3a"/>
<polygon points="380.90,379.90 381.51,380.95 382.71,381.21 381.89,382.12 382.02,383.34 380.90,382.85 379.78,383.34 379.91,382.12 379.09,381.21 380.29,380.95" fill="#3a3a3a"/>
<polygon points="385.50,379.90 386.11,380.95 387.31,381.21 386.49,382.12 386.62,383.34 385.50,382.85 384.38,383.34 384.51,382.12 383.69,381.21 384.89,380.95" fill="#3a3a3a"/>
<polygon points="425.20,323.40 425.81,324.45 427.01,324.71 426.19,325.62 426.32,326.84 425.20,326.35 424.08,326.84 424.21,325.62 423.39,324.71 424.59,324.45" fill="#3a3a3a"/>
<polygon points="467.20,314.50 467.81,315.55 469.01,315.81 468.19,316.72 468.32,317.94 467.20,317.44 466.08,317.94 466.21,316.72 465.39,315.81 466.59,315.55" fill="#3a3a3a"/>
<rect x="308.80" y="295.30" width="6.70" height="6.30" fill="#000"/>
<line x1="310.00" y1="300.20" x2="314.30" y2="296.70" stroke="#fff" stroke-width="1.5"/>
<rect x="308.80" y="305.50" width="6.70" height="7.00" fill="#000"/>
<text x="317.16" y="300.90" style="font-family:'Liberation Serif',serif;font-weight:bold;stroke:currentColor;stroke-width:0.25px;font-size:10.89px;color:#000" fill="#000" text-anchor="start">pgk</text>
<text x="317.00" y="311.80" style="font-family:'Liberation Serif',serif;font-weight:bold;stroke:currentColor;stroke-width:0.25px;font-size:9.9px;color:#000" fill="#000" text-anchor="start">siSuz12#6</text>
<text x="302.54" y="440.20" style="font-family:'Liberation Serif',serif;font-weight:bold;stroke:currentColor;stroke-width:0.25px;font-size:9.46px;color:#000" fill="#000" text-anchor="start">CTR</text>
<text x="328.85" y="440.20" style="font-family:'Liberation Serif',serif;font-weight:bold;stroke:currentColor;stroke-width:0.25px;font-size:9.01px;color:#000" fill="#000" text-anchor="start">RA</text>
<text x="347.13" y="440.20" style="font-family:'Liberation Serif',serif;font-weight:bold;stroke:currentColor;stroke-width:0.25px;font-size:9.56px;color:#000" fill="#000" text-anchor="start">CTR</text>
<text x="371.15" y="440.20" style="font-family:'Liberation Serif',serif;font-weight:bold;stroke:currentColor;stroke-width:0.25px;font-size:9.01px;color:#000" fill="#000" text-anchor="start">RA</text>
<text x="389.81" y="440.20" style="font-family:'Liberation Serif',serif;font-weight:bold;stroke:currentColor;stroke-width:0.25px;font-size:9.99px;color:#000" fill="#000" text-anchor="start">CTR</text>
<text x="416.44" y="440.20" style="font-family:'Liberation Serif',serif;font-weight:bold;stroke:currentColor;stroke-width:0.25px;font-size:9.23px;color:#000" fill="#000" text-anchor="start">RA</text>
<text x="432.33" y="440.20" style="font-family:'Liberation Serif',serif;font-weight:bold;stroke:currentColor;stroke-width:0.25px;font-size:9.61px;color:#000" fill="#000" text-anchor="start">CTR</text>
<text x="458.94" y="440.20" style="font-family:'Liberation Serif',serif;font-weight:bold;stroke:currentColor;stroke-width:0.25px;font-size:9.23px;color:#000" fill="#000" text-anchor="start">RA</text>
<text x="34.60" y="347.60" style="font-family:'Liberation Sans',sans-serif;font-weight:bold;stroke:currentColor;stroke-width:0.35px;font-size:14px;color:#000" fill="#000" text-anchor="start">E</text>
<text x="108.44" y="345.30" style="font-family:'Liberation Serif',serif;font-weight:bold;stroke:currentColor;stroke-width:0.25px;font-size:11.42px;color:#000" fill="#000" text-anchor="start">48 h</text>
<text x="167.10" y="345.30" style="font-family:'Liberation Serif',serif;font-weight:bold;stroke:currentColor;stroke-width:0.25px;font-size:12.17px;color:#000" fill="#000" text-anchor="start">72 h</text>
<text x="86.42" y="360.00" style="font-family:'Liberation Serif',serif;font-weight:bold;stroke:currentColor;stroke-width:0.25px;font-size:11.88px;color:#000" fill="#000" text-anchor="start">CTR</text>
<text x="123.11" y="360.00" style="font-family:'Liberation Serif',serif;font-weight:bold;stroke:currentColor;stroke-width:0.25px;font-size:11.06px;color:#000" fill="#000" text-anchor="start">RA</text>
<text x="151.94" y="360.00" style="font-family:'Liberation Serif',serif;font-weight:bold;stroke:currentColor;stroke-width:0.25px;font-size:11.44px;color:#000" fill="#000" text-anchor="start">CTR</text>
<text x="185.60" y="360.00" style="font-family:'Liberation Serif',serif;font-weight:bold;stroke:currentColor;stroke-width:0.25px;font-size:11.62px;color:#000" fill="#000" text-anchor="start">RA</text>
<rect x="86.00" y="362.85" width="28.50" height="1.50" fill="#000"/>
<rect x="116.30" y="362.85" width="28.30" height="1.50" fill="#000"/>
<rect x="147.90" y="362.85" width="28.50" height="1.50" fill="#000"/>
<rect x="178.30" y="362.85" width="28.20" height="1.50" fill="#000"/>
<text x="42.65" y="376.30" style="font-family:'Liberation Serif',serif;font-weight:bold;stroke:currentColor;stroke-width:0.25px;font-size:9.77px;color:#000" fill="#000" text-anchor="start">TGase-II</text>
<text x="44.74" y="389.60" style="font-family:'Liberation Serif',serif;font-weight:bold;stroke:currentColor;stroke-width:0.25px;font-size:9.81px;color:#000" fill="#000" text-anchor="start">βtubulin</text>
<rect x="84.00" y="367.70" width="122.50" height="10.30" fill="#d0d0d0" filter="url(#bl0)"/>
<rect x="84.00" y="382.50" width="122.50" height="9.20" fill="#cdcdcd" filter="url(#bl0)"/>
<rect x="84.90" y="368" width="9" height="9.8" fill="#000" opacity="0.035"/>
<rect x="85.10" y="385.20" width="8.60" height="3.60" rx="1.80" fill="#222" opacity="0.85" filter="url(#bl)"/>
<rect x="94.90" y="368" width="9" height="9.8" fill="#000" opacity="0.035"/>
<rect x="95.10" y="385.20" width="8.60" height="3.60" rx="1.80" fill="#222" opacity="0.85" filter="url(#bl)"/>
<rect x="104.70" y="368" width="9" height="9.8" fill="#000" opacity="0.035"/>
<rect x="104.90" y="385.20" width="8.60" height="3.60" rx="1.80" fill="#222" opacity="0.85" filter="url(#bl)"/>
<rect x="115.30" y="368" width="9" height="9.8" fill="#000" opacity="0.035"/>
<rect x="115.50" y="385.20" width="8.60" height="3.60" rx="1.80" fill="#222" opacity="0.85" filter="url(#bl)"/>
<rect x="125.30" y="368" width="9" height="9.8" fill="#000" opacity="0.035"/>
<rect x="125.50" y="385.20" width="8.60" height="3.60" rx="1.80" fill="#222" opacity="0.85" filter="url(#bl)"/>
<rect x="135.90" y="368" width="9" height="9.8" fill="#000" opacity="0.035"/>
<rect x="136.10" y="385.20" width="8.60" height="3.60" rx="1.80" fill="#222" opacity="0.85" filter="url(#bl)"/>
<rect x="146.40" y="368" width="9" height="9.8" fill="#000" opacity="0.035"/>
<rect x="146.60" y="385.20" width="8.60" height="3.60" rx="1.80" fill="#222" opacity="0.85" filter="url(#bl)"/>
<rect x="156.40" y="368" width="9" height="9.8" fill="#000" opacity="0.035"/>
<rect x="156.60" y="385.20" width="8.60" height="3.60" rx="1.80" fill="#222" opacity="0.85" filter="url(#bl)"/>
<rect x="166.70" y="368" width="9" height="9.8" fill="#000" opacity="0.035"/>
<rect x="166.90" y="385.20" width="8.60" height="3.60" rx="1.80" fill="#222" opacity="0.85" filter="url(#bl)"/>
<rect x="176.80" y="368" width="9" height="9.8" fill="#000" opacity="0.035"/>
<rect x="177.00" y="385.20" width="8.60" height="3.60" rx="1.80" fill="#222" opacity="0.85" filter="url(#bl)"/>
<rect x="186.40" y="368" width="9" height="9.8" fill="#000" opacity="0.035"/>
<rect x="186.60" y="385.20" width="8.60" height="3.60" rx="1.80" fill="#222" opacity="0.85" filter="url(#bl)"/>
<rect x="196.70" y="368" width="9" height="9.8" fill="#000" opacity="0.035"/>
<rect x="196.90" y="385.20" width="8.60" height="3.60" rx="1.80" fill="#222" opacity="0.85" filter="url(#bl)"/>
<rect x="85.30" y="371.70" width="8.20" height="3.40" rx="1.70" fill="#2a2a2a" opacity="0.12" filter="url(#bl2)"/>
<rect x="95.30" y="371.70" width="8.20" height="3.40" rx="1.70" fill="#2a2a2a" opacity="0.1" filter="url(#bl2)"/>
<rect x="105.10" y="371.70" width="8.20" height="3.40" rx="1.70" fill="#2a2a2a" opacity="0.1" filter="url(#bl2)"/>
<rect x="115.70" y="371.70" width="8.20" height="3.40" rx="1.70" fill="#2a2a2a" opacity="0.3" filter="url(#bl2)"/>
<rect x="125.70" y="371.70" width="8.20" height="3.40" rx="1.70" fill="#2a2a2a" opacity="0.4" filter="url(#bl2)"/>
<rect x="136.30" y="371.70" width="8.20" height="3.40" rx="1.70" fill="#2a2a2a" opacity="0.22" filter="url(#bl2)"/>
<rect x="146.80" y="371.70" width="8.20" height="3.40" rx="1.70" fill="#2a2a2a" opacity="0.12" filter="url(#bl2)"/>
<rect x="156.80" y="371.70" width="8.20" height="3.40" rx="1.70" fill="#2a2a2a" opacity="0.15" filter="url(#bl2)"/>
<rect x="167.10" y="371.70" width="8.20" height="3.40" rx="1.70" fill="#2a2a2a" opacity="0.15" filter="url(#bl2)"/>
<rect x="177.20" y="371.70" width="8.20" height="3.40" rx="1.70" fill="#2a2a2a" opacity="0.8" filter="url(#bl2)"/>
<rect x="186.80" y="371.70" width="8.20" height="3.40" rx="1.70" fill="#2a2a2a" opacity="0.7" filter="url(#bl2)"/>
<rect x="197.10" y="371.70" width="8.20" height="3.40" rx="1.70" fill="#2a2a2a" opacity="0.3" filter="url(#bl2)"/>
<text transform="translate(89.80,410.10) rotate(-90)" style="font-family:'Liberation Serif',serif;font-weight:bold;stroke:currentColor;stroke-width:0.25px;font-size:10.0px;color:#000;stroke-width:0.5px" fill="#000" text-anchor="start" textLength="9.26" lengthAdjust="spacingAndGlyphs">wt</text>
<text transform="translate(98.40,410.10) rotate(-90)" style="font-family:'Liberation Serif',serif;font-weight:bold;stroke:currentColor;stroke-width:0.25px;font-size:10.0px;color:#000;stroke-width:0.5px" fill="#000" text-anchor="start" textLength="15.13" lengthAdjust="spacingAndGlyphs">pgk</text>
<text transform="translate(111.20,436.30) rotate(-90)" style="font-family:'Liberation Serif',serif;font-weight:bold;stroke:currentColor;stroke-width:0.25px;font-size:9.4px;color:#000;stroke-width:0.5px" fill="#000" text-anchor="start" textLength="41.99" lengthAdjust="spacingAndGlyphs">siSuz12#6</text>
<text transform="translate(120.30,410.10) rotate(-90)" style="font-family:'Liberation Serif',serif;font-weight:bold;stroke:currentColor;stroke-width:0.25px;font-size:10.0px;color:#000;stroke-width:0.5px" fill="#000" text-anchor="start" textLength="9.26" lengthAdjust="spacingAndGlyphs">wt</text>
<text transform="translate(129.15,410.10) rotate(-90)" style="font-family:'Liberation Serif',serif;font-weight:bold;stroke:currentColor;stroke-width:0.25px;font-size:10.0px;color:#000;stroke-width:0.5px" fill="#000" text-anchor="start" textLength="15.13" lengthAdjust="spacingAndGlyphs">pgk</text>
<text transform="translate(141.20,436.30) rotate(-90)" style="font-family:'Liberation Serif',serif;font-weight:bold;stroke:currentColor;stroke-width:0.25px;font-size:9.4px;color:#000;stroke-width:0.5px" fill="#000" text-anchor="start" textLength="41.99" lengthAdjust="spacingAndGlyphs">siSuz12#6</text>
<text transform="translate(151.55,410.10) rotate(-90)" style="font-family:'Liberation Serif',serif;font-weight:bold;stroke:currentColor;stroke-width:0.25px;font-size:10.0px;color:#000;stroke-width:0.5px" fill="#000" text-anchor="start" textLength="9.26" lengthAdjust="spacingAndGlyphs">wt</text>
<text transform="translate(161.65,410.10) rotate(-90)" style="font-family:'Liberation Serif',serif;font-weight:bold;stroke:currentColor;stroke-width:0.25px;font-size:10.0px;color:#000;stroke-width:0.5px" fill="#000" text-anchor="start" textLength="15.13" lengthAdjust="spacingAndGlyphs">pgk</text>
<text transform="translate(173.70,436.30) rotate(-90)" style="font-family:'Liberation Serif',serif;font-weight:bold;stroke:currentColor;stroke-width:0.25px;font-size:9.4px;color:#000;stroke-width:0.5px" fill="#000" text-anchor="start" textLength="41.99" lengthAdjust="spacingAndGlyphs">siSuz12#6</text>
<text transform="translate(184.05,410.10) rotate(-90)" style="font-family:'Liberation Serif',serif;font-weight:bold;stroke:currentColor;stroke-width:0.25px;font-size:10.0px;color:#000;stroke-width:0.5px" fill="#000" text-anchor="start" textLength="9.26" lengthAdjust="spacingAndGlyphs">wt</text>
<text transform="translate(192.90,410.10) rotate(-90)" style="font-family:'Liberation Serif',serif;font-weight:bold;stroke:currentColor;stroke-width:0.25px;font-size:10.0px;color:#000;stroke-width:0.5px" fill="#000" text-anchor="start" textLength="15.13" lengthAdjust="spacingAndGlyphs">pgk</text>
<text transform="translate(205.70,436.30) rotate(-90)" style="font-family:'Liberation Serif',serif;font-weight:bold;stroke:currentColor;stroke-width:0.25px;font-size:9.4px;color:#000;stroke-width:0.5px" fill="#000" text-anchor="start" textLength="41.99" lengthAdjust="spacingAndGlyphs">siSuz12#6</text>
<text x="33.10" y="452.30" style="font-family:'Liberation Sans',sans-serif;font-weight:bold;stroke:currentColor;stroke-width:0.35px;font-size:14px;color:#000" fill="#000" text-anchor="start">F</text>
<text transform="translate(80.50,491.00) rotate(-90)" style="font-family:'Liberation Serif',serif;font-weight:bold;stroke:currentColor;stroke-width:0.25px;font-size:11.5px;color:#000" fill="#000" text-anchor="start" textLength="11.28" lengthAdjust="spacingAndGlyphs">wt</text>
<text transform="translate(96.80,491.00) rotate(-90)" style="font-family:'Liberation Serif',serif;font-weight:bold;stroke:currentColor;stroke-width:0.25px;font-size:11.5px;color:#000" fill="#000" text-anchor="start" textLength="36.47" lengthAdjust="spacingAndGlyphs">pGIPZ</text>
<text transform="translate(119.50,491.00) rotate(-90)" style="font-family:'Liberation Serif',serif;font-weight:bold;stroke:currentColor;stroke-width:0.25px;font-size:11.5px;color:#000" fill="#000" text-anchor="start" textLength="37.07" lengthAdjust="spacingAndGlyphs">siDicer1</text>
<text x="33.80" y="506.40" style="font-family:'Liberation Serif',serif;font-weight:bold;stroke:currentColor;stroke-width:0.25px;font-size:11.33px;color:#000" fill="#000" text-anchor="start">Dicer1</text>
<text x="24.67" y="523.60" style="font-family:'Liberation Serif',serif;font-weight:bold;stroke:currentColor;stroke-width:0.25px;font-size:11.21px;color:#000" fill="#000" text-anchor="start">βtubulin</text>
<rect x="68.70" y="493.70" width="57.50" height="16.60" fill="#cdcdcd" filter="url(#bl0)"/>
<rect x="68.70" y="513.00" width="57.50" height="16.40" fill="#c8c8c8" filter="url(#bl0)"/>
<path d="M71.60,502.60 Q77.50,501.50 83.40,502.90" stroke="#111" stroke-width="2.6" fill="none" stroke-linecap="round" opacity="0.92" filter="url(#bl0)"/>
<path d="M90.20,502.60 Q96.30,501.50 102.40,502.90" stroke="#111" stroke-width="2.6" fill="none" stroke-linecap="round" opacity="0.9" filter="url(#bl0)"/>
<rect x="110.00" y="501.40" width="11.00" height="2.20" rx="1.10" fill="#777" opacity="0.2" filter="url(#bl)"/>
<rect x="70.55" y="519.20" width="14.50" height="3.00" rx="1.20" fill="#151515" opacity="0.9" filter="url(#bl)"/>
<rect x="89.25" y="519.30" width="14.50" height="3.00" rx="1.20" fill="#151515" opacity="0.9" filter="url(#bl)"/>
<rect x="108.75" y="519.20" width="14.50" height="3.20" rx="1.20" fill="#151515" opacity="0.9" filter="url(#bl)"/>
<text transform="translate(200.00,489.20) rotate(-90)" style="font-family:'Liberation Serif',serif;font-weight:bold;stroke:currentColor;stroke-width:0.25px;font-size:11.5px;color:#000" fill="#000" text-anchor="start" textLength="11.98" lengthAdjust="spacingAndGlyphs">wt</text>
<text transform="translate(220.50,489.20) rotate(-90)" style="font-family:'Liberation Serif',serif;font-weight:bold;stroke:currentColor;stroke-width:0.25px;font-size:11.5px;color:#000" fill="#000" text-anchor="start" textLength="34.63" lengthAdjust="spacingAndGlyphs">pGIPZ</text>
<text transform="translate(242.50,489.20) rotate(-90)" style="font-family:'Liberation Serif',serif;font-weight:bold;stroke:currentColor;stroke-width:0.25px;font-size:11.5px;color:#000" fill="#000" text-anchor="start" textLength="39.85" lengthAdjust="spacingAndGlyphs">siAGO1</text>
<text x="161.49" y="504.60" style="font-family:'Liberation Serif',serif;font-weight:bold;stroke:currentColor;stroke-width:0.25px;font-size:10.97px;color:#000" fill="#000" text-anchor="start">Ago1</text>
<text x="142.13" y="523.80" style="font-family:'Liberation Serif',serif;font-weight:bold;stroke:currentColor;stroke-width:0.25px;font-size:11.91px;color:#000" fill="#000" text-anchor="start">βtubulin</text>
<rect x="188.80" y="492.50" width="57.50" height="16.30" fill="#cdcdcd" filter="url(#bl0)"/>
<rect x="188.80" y="511.30" width="57.50" height="17.50" fill="#cbcbcb" filter="url(#bl0)"/>
<rect x="191.90" y="497.30" width="15.00" height="4.20" rx="2.10" fill="#111" opacity="0.95" filter="url(#bl)"/>
<rect x="210.90" y="498.20" width="15.00" height="3.60" rx="1.80" fill="#151515" opacity="0.92" filter="url(#bl)"/>
<rect x="230.40" y="498.70" width="13.00" height="3.00" rx="1.50" fill="#222" opacity="0.88" filter="url(#bl)"/>
<rect x="191.00" y="519.00" width="15.00" height="3.20" rx="1.60" fill="#111" opacity="0.95" filter="url(#bl)"/>
<rect x="210.00" y="519.00" width="15.00" height="3.20" rx="1.60" fill="#111" opacity="0.95" filter="url(#bl)"/>
<rect x="229.00" y="518.60" width="15.00" height="3.60" rx="1.80" fill="#111" opacity="0.95" filter="url(#bl)"/>
<text x="23.20" y="557.80" style="font-family:'Liberation Sans',sans-serif;font-weight:bold;stroke:currentColor;stroke-width:0.35px;font-size:14px;color:#000" fill="#000" text-anchor="start">G</text>
<text x="59.19" y="565.50" style="font-family:'Liberation Serif',serif;font-weight:bold;stroke:currentColor;stroke-width:0.25px;font-size:11.65px;color:#000" fill="#000" text-anchor="start">miR-223</text>
<text x="131.39" y="564.60" style="font-family:'Liberation Serif',serif;font-weight:bold;stroke:currentColor;stroke-width:0.25px;font-size:11.28px;color:#000" fill="#000" text-anchor="start">NFI-A mRNA</text>
<text x="212.90" y="564.60" style="font-family:'Liberation Serif',serif;font-weight:bold;stroke:currentColor;stroke-width:0.25px;font-size:11.7px;color:#000" fill="#000" text-anchor="start">% CD11b+</text>
<text x="2.01" y="685.00" style="font-family:'Liberation Serif',serif;font-weight:bold;stroke:currentColor;stroke-width:0.25px;font-size:11.1px;color:#000" fill="#000" text-anchor="start">RA (μM)</text>
<line x1="47.60" y1="572.20" x2="47.60" y2="670.30" stroke="#777" stroke-width="1"/>
<line x1="47.60" y1="670.30" x2="100.80" y2="670.30" stroke="#777" stroke-width="1"/>
<line x1="45.60" y1="579.00" x2="47.60" y2="579.00" stroke="#777" stroke-width="1"/>
<text x="40.60" y="583.40" style="font-family:'Liberation Serif',serif;font-weight:bold;stroke:currentColor;stroke-width:0.25px;font-size:12.8px;color:#000" fill="#000" text-anchor="end">6</text>
<line x1="45.60" y1="608.30" x2="47.60" y2="608.30" stroke="#777" stroke-width="1"/>
<text x="40.60" y="612.70" style="font-family:'Liberation Serif',serif;font-weight:bold;stroke:currentColor;stroke-width:0.25px;font-size:12.8px;color:#000" fill="#000" text-anchor="end">4</text>
<line x1="45.60" y1="637.40" x2="47.60" y2="637.40" stroke="#777" stroke-width="1"/>
<text x="40.60" y="641.80" style="font-family:'Liberation Serif',serif;font-weight:bold;stroke:currentColor;stroke-width:0.25px;font-size:12.8px;color:#000" fill="#000" text-anchor="end">2</text>
<line x1="45.60" y1="666.80" x2="47.60" y2="666.80" stroke="#777" stroke-width="1"/>
<text x="40.60" y="671.20" style="font-family:'Liberation Serif',serif;font-weight:bold;stroke:currentColor;stroke-width:0.25px;font-size:12.8px;color:#000" fill="#000" text-anchor="end">0</text>
<line x1="51.30" y1="670.30" x2="51.30" y2="672.50" stroke="#777" stroke-width="1"/>
<line x1="70.90" y1="670.30" x2="70.90" y2="672.50" stroke="#777" stroke-width="1"/>
<line x1="90.40" y1="670.30" x2="90.40" y2="672.50" stroke="#777" stroke-width="1"/>
<polyline points="51.30,651.44 70.90,636.08 90.40,587.07" fill="none" stroke="#333" stroke-width="0.8"/>
<polyline points="51.30,651.44 70.90,646.32 90.40,642.22" fill="none" stroke="#333" stroke-width="0.8"/>
<polyline points="51.30,652.17 70.90,656.56 90.40,624.37" fill="none" stroke="#333" stroke-width="0.8"/>
<line x1="90.40" y1="580.50" x2="90.40" y2="594.70" stroke="#444" stroke-width="0.9"/>
<line x1="88.90" y1="580.50" x2="91.90" y2="580.50" stroke="#444" stroke-width="0.9"/>
<line x1="88.90" y1="594.70" x2="91.90" y2="594.70" stroke="#444" stroke-width="0.9"/>
<line x1="90.40" y1="620.50" x2="90.40" y2="626.00" stroke="#444" stroke-width="0.9"/>
<line x1="88.90" y1="620.50" x2="91.90" y2="620.50" stroke="#444" stroke-width="0.9"/>
<line x1="88.90" y1="626.00" x2="91.90" y2="626.00" stroke="#444" stroke-width="0.9"/>
<circle cx="51.30" cy="651.44" r="2.9" fill="#000"/>
<circle cx="70.90" cy="636.08" r="2.9" fill="#000"/>
<circle cx="90.40" cy="587.07" r="2.9" fill="#000"/>
<rect x="48.80" y="648.94" width="5.00" height="5.00" fill="#000"/>
<rect x="68.40" y="643.82" width="5.00" height="5.00" fill="#000"/>
<rect x="87.90" y="639.72" width="5.00" height="5.00" fill="#000"/>
<polygon points="48.20,649.87 54.40,649.87 51.30,655.07" fill="#000"/>
<polygon points="67.80,654.26 74.00,654.26 70.90,659.46" fill="#000"/>
<polygon points="87.30,622.07 93.50,622.07 90.40,627.27" fill="#000"/>
<polygon points="68.85,640.90 69.66,642.29 71.23,642.63 70.16,643.82 70.32,645.42 68.85,644.77 67.38,645.42 67.54,643.82 66.47,642.63 68.04,642.29" fill="#727272"/>
<polygon points="73.55,640.90 74.36,642.29 75.93,642.63 74.86,643.82 75.02,645.42 73.55,644.77 72.08,645.42 72.24,643.82 71.17,642.63 72.74,642.29" fill="#727272"/>
<polygon points="69.15,662.40 69.96,663.79 71.53,664.13 70.46,665.32 70.62,666.92 69.15,666.27 67.68,666.92 67.84,665.32 66.77,664.13 68.34,663.79" fill="#727272"/>
<polygon points="73.85,662.40 74.66,663.79 76.23,664.13 75.16,665.32 75.32,666.92 73.85,666.27 72.38,666.92 72.54,665.32 71.47,664.13 73.04,663.79" fill="#727272"/>
<polygon points="88.45,613.10 89.26,614.49 90.83,614.83 89.76,616.02 89.92,617.62 88.45,616.98 86.98,617.62 87.14,616.02 86.07,614.83 87.64,614.49" fill="#727272"/>
<polygon points="93.15,613.10 93.96,614.49 95.53,614.83 94.46,616.02 94.62,617.62 93.15,616.98 91.68,617.62 91.84,616.02 90.77,614.83 92.34,614.49" fill="#727272"/>
<polygon points="88.45,649.60 89.26,650.99 90.83,651.33 89.76,652.52 89.92,654.12 88.45,653.48 86.98,654.12 87.14,652.52 86.07,651.33 87.64,650.99" fill="#727272"/>
<polygon points="93.15,649.60 93.96,650.99 95.53,651.33 94.46,652.52 94.62,654.12 93.15,653.48 91.68,654.12 91.84,652.52 90.77,651.33 92.34,650.99" fill="#727272"/>
<text x="52.70" y="685.00" style="font-family:'Liberation Serif',serif;font-weight:bold;stroke:currentColor;stroke-width:0.25px;font-size:12px;color:#000" fill="#000" text-anchor="middle">0</text>
<text x="64.24" y="685.00" style="font-family:'Liberation Serif',serif;font-weight:bold;stroke:currentColor;stroke-width:0.25px;font-size:12px;color:#000" fill="#000" text-anchor="start" textLength="15.81" lengthAdjust="spacingAndGlyphs">0.01</text>
<text x="90.10" y="685.00" style="font-family:'Liberation Serif',serif;font-weight:bold;stroke:currentColor;stroke-width:0.25px;font-size:12px;color:#000" fill="#000" text-anchor="middle">1</text>
<line x1="134.90" y1="571.40" x2="134.90" y2="670.60" stroke="#777" stroke-width="1"/>
<line x1="134.90" y1="670.60" x2="187.70" y2="670.60" stroke="#777" stroke-width="1"/>
<line x1="132.90" y1="573.50" x2="134.90" y2="573.50" stroke="#777" stroke-width="1"/>
<text x="127.80" y="577.90" style="font-family:'Liberation Serif',serif;font-weight:bold;stroke:currentColor;stroke-width:0.25px;font-size:11.8px;color:#000" fill="#000" text-anchor="end">1.2</text>
<line x1="132.90" y1="604.80" x2="134.90" y2="604.80" stroke="#777" stroke-width="1"/>
<text x="127.80" y="609.20" style="font-family:'Liberation Serif',serif;font-weight:bold;stroke:currentColor;stroke-width:0.25px;font-size:11.8px;color:#000" fill="#000" text-anchor="end">0.8</text>
<line x1="132.90" y1="635.90" x2="134.90" y2="635.90" stroke="#777" stroke-width="1"/>
<text x="127.80" y="640.30" style="font-family:'Liberation Serif',serif;font-weight:bold;stroke:currentColor;stroke-width:0.25px;font-size:11.8px;color:#000" fill="#000" text-anchor="end">0.4</text>
<line x1="132.90" y1="667.20" x2="134.90" y2="667.20" stroke="#777" stroke-width="1"/>
<text x="127.80" y="671.60" style="font-family:'Liberation Serif',serif;font-weight:bold;stroke:currentColor;stroke-width:0.25px;font-size:11.8px;color:#000" fill="#000" text-anchor="end">0.0</text>
<line x1="139.50" y1="670.60" x2="139.50" y2="672.80" stroke="#777" stroke-width="1"/>
<line x1="159.20" y1="670.60" x2="159.20" y2="672.80" stroke="#777" stroke-width="1"/>
<line x1="178.60" y1="670.60" x2="178.60" y2="672.80" stroke="#777" stroke-width="1"/>
<polyline points="139.50,590.66 159.20,630.49 178.60,660.17" fill="none" stroke="#333" stroke-width="0.8"/>
<polyline points="139.50,586.76 159.20,597.69 178.60,631.27" fill="none" stroke="#333" stroke-width="0.8"/>
<polyline points="139.50,589.88 159.20,615.65 178.60,621.12" fill="none" stroke="#333" stroke-width="0.8"/>
<line x1="139.50" y1="580.00" x2="139.50" y2="598.00" stroke="#444" stroke-width="0.9"/>
<line x1="138.00" y1="580.00" x2="141.00" y2="580.00" stroke="#444" stroke-width="0.9"/>
<line x1="138.00" y1="598.00" x2="141.00" y2="598.00" stroke="#444" stroke-width="0.9"/>
<line x1="159.20" y1="586.20" x2="159.20" y2="608.40" stroke="#444" stroke-width="0.9"/>
<line x1="157.70" y1="586.20" x2="160.70" y2="586.20" stroke="#444" stroke-width="0.9"/>
<line x1="157.70" y1="608.40" x2="160.70" y2="608.40" stroke="#444" stroke-width="0.9"/>
<line x1="159.20" y1="620.00" x2="159.20" y2="640.10" stroke="#444" stroke-width="0.9"/>
<line x1="157.70" y1="620.00" x2="160.70" y2="620.00" stroke="#444" stroke-width="0.9"/>
<line x1="157.70" y1="640.10" x2="160.70" y2="640.10" stroke="#444" stroke-width="0.9"/>
<line x1="178.60" y1="602.00" x2="178.60" y2="638.00" stroke="#444" stroke-width="0.9"/>
<line x1="177.10" y1="602.00" x2="180.10" y2="602.00" stroke="#444" stroke-width="0.9"/>
<line x1="177.10" y1="638.00" x2="180.10" y2="638.00" stroke="#444" stroke-width="0.9"/>
<circle cx="139.50" cy="590.66" r="2.9" fill="#000"/>
<circle cx="159.20" cy="630.49" r="2.9" fill="#000"/>
<circle cx="178.60" cy="660.17" r="2.9" fill="#000"/>
<rect x="137.00" y="584.26" width="5.00" height="5.00" fill="#000"/>
<rect x="156.70" y="595.19" width="5.00" height="5.00" fill="#000"/>
<rect x="176.10" y="628.77" width="5.00" height="5.00" fill="#000"/>
<polygon points="136.40,587.58 142.60,587.58 139.50,592.78" fill="#000"/>
<polygon points="156.10,613.35 162.30,613.35 159.20,618.55" fill="#000"/>
<polygon points="175.50,618.82 181.70,618.82 178.60,624.02" fill="#000"/>
<polygon points="159.40,578.70 160.21,580.09 161.78,580.43 160.71,581.62 160.87,583.22 159.40,582.58 157.93,583.22 158.09,581.62 157.02,580.43 158.59,580.09" fill="#727272"/>
<polygon points="176.45,595.50 177.26,596.89 178.83,597.23 177.76,598.42 177.92,600.02 176.45,599.38 174.98,600.02 175.14,598.42 174.07,597.23 175.64,596.89" fill="#727272"/>
<polygon points="181.15,595.50 181.96,596.89 183.53,597.23 182.46,598.42 182.62,600.02 181.15,599.38 179.68,600.02 179.84,598.42 178.77,597.23 180.34,596.89" fill="#727272"/>
<polygon points="176.45,642.50 177.26,643.89 178.83,644.23 177.76,645.42 177.92,647.02 176.45,646.38 174.98,647.02 175.14,645.42 174.07,644.23 175.64,643.89" fill="#727272"/>
<polygon points="181.15,642.50 181.96,643.89 183.53,644.23 182.46,645.42 182.62,647.02 181.15,646.38 179.68,647.02 179.84,645.42 178.77,644.23 180.34,643.89" fill="#727272"/>
<text x="140.80" y="685.00" style="font-family:'Liberation Serif',serif;font-weight:bold;stroke:currentColor;stroke-width:0.25px;font-size:12px;color:#000" fill="#000" text-anchor="middle">0</text>
<text x="152.74" y="685.00" style="font-family:'Liberation Serif',serif;font-weight:bold;stroke:currentColor;stroke-width:0.25px;font-size:12px;color:#000" fill="#000" text-anchor="start" textLength="15.28" lengthAdjust="spacingAndGlyphs">0.01</text>
<text x="179.00" y="685.00" style="font-family:'Liberation Serif',serif;font-weight:bold;stroke:currentColor;stroke-width:0.25px;font-size:12px;color:#000" fill="#000" text-anchor="middle">1</text>
<line x1="212.80" y1="571.40" x2="212.80" y2="670.10" stroke="#777" stroke-width="1"/>
<line x1="212.80" y1="670.10" x2="266.00" y2="670.10" stroke="#777" stroke-width="1"/>
<line x1="210.80" y1="572.50" x2="212.80" y2="572.50" stroke="#777" stroke-width="1"/>
<text x="205.90" y="576.90" style="font-family:'Liberation Serif',serif;font-weight:bold;stroke:currentColor;stroke-width:0.25px;font-size:12.6px;color:#000" fill="#000" text-anchor="end">80</text>
<line x1="210.80" y1="596.20" x2="212.80" y2="596.20" stroke="#777" stroke-width="1"/>
<text x="205.90" y="600.60" style="font-family:'Liberation Serif',serif;font-weight:bold;stroke:currentColor;stroke-width:0.25px;font-size:12.6px;color:#000" fill="#000" text-anchor="end">60</text>
<line x1="210.80" y1="620.00" x2="212.80" y2="620.00" stroke="#777" stroke-width="1"/>
<text x="205.90" y="624.40" style="font-family:'Liberation Serif',serif;font-weight:bold;stroke:currentColor;stroke-width:0.25px;font-size:12.6px;color:#000" fill="#000" text-anchor="end">40</text>
<line x1="210.80" y1="644.00" x2="212.80" y2="644.00" stroke="#777" stroke-width="1"/>
<text x="205.90" y="648.40" style="font-family:'Liberation Serif',serif;font-weight:bold;stroke:currentColor;stroke-width:0.25px;font-size:12.6px;color:#000" fill="#000" text-anchor="end">20</text>
<line x1="210.80" y1="668.00" x2="212.80" y2="668.00" stroke="#777" stroke-width="1"/>
<text x="205.90" y="672.40" style="font-family:'Liberation Serif',serif;font-weight:bold;stroke:currentColor;stroke-width:0.25px;font-size:12.6px;color:#000" fill="#000" text-anchor="end">0</text>
<line x1="217.60" y1="670.10" x2="217.60" y2="672.30" stroke="#777" stroke-width="1"/>
<line x1="236.70" y1="670.10" x2="236.70" y2="672.30" stroke="#777" stroke-width="1"/>
<line x1="256.50" y1="670.10" x2="256.50" y2="672.30" stroke="#777" stroke-width="1"/>
<polyline points="217.60,667.07 236.70,659.87" fill="none" stroke="#a0a0a0" stroke-width="2.6"/>
<polyline points="217.60,666.57 236.70,627.54 256.50,578.15" fill="none" stroke="#333" stroke-width="0.8"/>
<polyline points="236.70,659.67 256.50,640.63" fill="none" stroke="#333" stroke-width="0.8"/>
<polyline points="236.70,659.43 256.50,612.07" fill="none" stroke="#333" stroke-width="0.8"/>
<line x1="256.50" y1="601.70" x2="256.50" y2="620.70" stroke="#444" stroke-width="0.9"/>
<line x1="255.00" y1="601.70" x2="258.00" y2="601.70" stroke="#444" stroke-width="0.9"/>
<line x1="255.00" y1="620.70" x2="258.00" y2="620.70" stroke="#444" stroke-width="0.9"/>
<line x1="256.50" y1="634.90" x2="256.50" y2="647.50" stroke="#444" stroke-width="0.9"/>
<line x1="255.00" y1="634.90" x2="258.00" y2="634.90" stroke="#444" stroke-width="0.9"/>
<line x1="255.00" y1="647.50" x2="258.00" y2="647.50" stroke="#444" stroke-width="0.9"/>
<circle cx="217.60" cy="666.57" r="2.9" fill="#000"/>
<circle cx="236.70" cy="627.54" r="2.9" fill="#000"/>
<circle cx="256.50" cy="578.15" r="2.9" fill="#000"/>
<rect x="215.10" y="664.07" width="5.00" height="5.00" fill="#000"/>
<rect x="234.20" y="657.17" width="5.00" height="5.00" fill="#000"/>
<rect x="254.00" y="638.13" width="5.00" height="5.00" fill="#000"/>
<polygon points="214.50,664.27 220.70,664.27 217.60,669.47" fill="#000"/>
<polygon points="233.60,657.13 239.80,657.13 236.70,662.33" fill="#000"/>
<polygon points="253.40,609.77 259.60,609.77 256.50,614.97" fill="#000"/>
<polygon points="254.45,595.50 255.26,596.89 256.83,597.23 255.76,598.42 255.92,600.02 254.45,599.38 252.98,600.02 253.14,598.42 252.07,597.23 253.64,596.89" fill="#727272"/>
<polygon points="259.15,595.50 259.96,596.89 261.53,597.23 260.46,598.42 260.62,600.02 259.15,599.38 257.68,600.02 257.84,598.42 256.77,597.23 258.34,596.89" fill="#727272"/>
<polygon points="254.45,628.30 255.26,629.69 256.83,630.03 255.76,631.22 255.92,632.82 254.45,632.17 252.98,632.82 253.14,631.22 252.07,630.03 253.64,629.69" fill="#727272"/>
<polygon points="259.15,628.30 259.96,629.69 261.53,630.03 260.46,631.22 260.62,632.82 259.15,632.17 257.68,632.82 257.84,631.22 256.77,630.03 258.34,629.69" fill="#727272"/>
<polygon points="234.65,649.50 235.46,650.89 237.03,651.23 235.96,652.42 236.12,654.02 234.65,653.38 233.18,654.02 233.34,652.42 232.27,651.23 233.84,650.89" fill="#727272"/>
<polygon points="239.35,649.50 240.16,650.89 241.73,651.23 240.66,652.42 240.82,654.02 239.35,653.38 237.88,654.02 238.04,652.42 236.97,651.23 238.54,650.89" fill="#727272"/>
<polygon points="234.65,665.10 235.46,666.49 237.03,666.83 235.96,668.02 236.12,669.62 234.65,668.98 233.18,669.62 233.34,668.02 232.27,666.83 233.84,666.49" fill="#727272"/>
<polygon points="239.35,665.10 240.16,666.49 241.73,666.83 240.66,668.02 240.82,669.62 239.35,668.98 237.88,669.62 238.04,668.02 236.97,666.83 238.54,666.49" fill="#727272"/>
<text x="218.20" y="685.00" style="font-family:'Liberation Serif',serif;font-weight:bold;stroke:currentColor;stroke-width:0.25px;font-size:12px;color:#000" fill="#000" text-anchor="middle">0</text>
<text x="230.24" y="685.00" style="font-family:'Liberation Serif',serif;font-weight:bold;stroke:currentColor;stroke-width:0.25px;font-size:12px;color:#000" fill="#000" text-anchor="start" textLength="16.13" lengthAdjust="spacingAndGlyphs">0.01</text>
<text x="256.90" y="685.00" style="font-family:'Liberation Serif',serif;font-weight:bold;stroke:currentColor;stroke-width:0.25px;font-size:12px;color:#000" fill="#000" text-anchor="middle">1</text>
<text x="316.90" y="481.50" style="font-family:'Liberation Sans',sans-serif;font-weight:bold;stroke:currentColor;stroke-width:0.35px;font-size:14px;color:#000" fill="#000" text-anchor="start">H</text>
<text x="354.30" y="469.90" style="font-family:'Liberation Serif',serif;font-weight:bold;stroke:currentColor;stroke-width:0.25px;font-size:11.68px;color:#000" fill="#000" text-anchor="start">H3K4me3</text>
<rect x="347.30" y="471.55" width="57.50" height="1.50" fill="#000"/>
<text x="444.30" y="469.90" style="font-family:'Liberation Serif',serif;font-weight:bold;stroke:currentColor;stroke-width:0.25px;font-size:11.67px;color:#000" fill="#000" text-anchor="start">H3K27me3</text>
<rect x="442.50" y="471.55" width="57.60" height="1.50" fill="#000"/>
<text x="347.04" y="486.00" style="font-family:'Liberation Serif',serif;font-weight:bold;stroke:currentColor;stroke-width:0.25px;font-size:11.44px;color:#000" fill="#000" text-anchor="start">CTR</text>
<text x="392.12" y="486.00" style="font-family:'Liberation Serif',serif;font-weight:bold;stroke:currentColor;stroke-width:0.25px;font-size:10.28px;color:#000" fill="#000" text-anchor="start">RA</text>
<text x="440.94" y="486.00" style="font-family:'Liberation Serif',serif;font-weight:bold;stroke:currentColor;stroke-width:0.25px;font-size:11.49px;color:#000" fill="#000" text-anchor="start">CTR</text>
<text x="485.82" y="486.00" style="font-family:'Liberation Serif',serif;font-weight:bold;stroke:currentColor;stroke-width:0.25px;font-size:10.63px;color:#000" fill="#000" text-anchor="start">RA</text>
<rect x="340.40" y="488.45" width="36.00" height="1.50" fill="#000"/>
<rect x="381.00" y="488.45" width="35.50" height="1.50" fill="#000"/>
<rect x="432.60" y="488.45" width="35.40" height="1.50" fill="#000"/>
<rect x="472.90" y="488.45" width="35.80" height="1.50" fill="#000"/>
<line x1="333.00" y1="498.70" x2="333.00" y2="625.80" stroke="#777" stroke-width="1"/>
<line x1="333.00" y1="625.80" x2="514.00" y2="625.80" stroke="#777" stroke-width="1"/>
<line x1="331.00" y1="625.80" x2="333.00" y2="625.80" stroke="#777" stroke-width="1"/>
<text x="327.90" y="630.30" style="font-family:'Liberation Serif',serif;font-weight:bold;stroke:currentColor;stroke-width:0.25px;font-size:12.4px;color:#000" fill="#000" text-anchor="end">0.0</text>
<line x1="331.00" y1="604.76" x2="333.00" y2="604.76" stroke="#777" stroke-width="1"/>
<text x="327.90" y="609.26" style="font-family:'Liberation Serif',serif;font-weight:bold;stroke:currentColor;stroke-width:0.25px;font-size:12.4px;color:#000" fill="#000" text-anchor="end">0.5</text>
<line x1="331.00" y1="583.73" x2="333.00" y2="583.73" stroke="#777" stroke-width="1"/>
<text x="327.90" y="588.23" style="font-family:'Liberation Serif',serif;font-weight:bold;stroke:currentColor;stroke-width:0.25px;font-size:12.4px;color:#000" fill="#000" text-anchor="end">1.0</text>
<line x1="331.00" y1="562.69" x2="333.00" y2="562.69" stroke="#777" stroke-width="1"/>
<text x="327.90" y="567.19" style="font-family:'Liberation Serif',serif;font-weight:bold;stroke:currentColor;stroke-width:0.25px;font-size:12.4px;color:#000" fill="#000" text-anchor="end">1.5</text>
<line x1="331.00" y1="541.66" x2="333.00" y2="541.66" stroke="#777" stroke-width="1"/>
<text x="327.90" y="546.16" style="font-family:'Liberation Serif',serif;font-weight:bold;stroke:currentColor;stroke-width:0.25px;font-size:12.4px;color:#000" fill="#000" text-anchor="end">2.0</text>
<line x1="331.00" y1="520.62" x2="333.00" y2="520.62" stroke="#777" stroke-width="1"/>
<text x="327.90" y="525.12" style="font-family:'Liberation Serif',serif;font-weight:bold;stroke:currentColor;stroke-width:0.25px;font-size:12.4px;color:#000" fill="#000" text-anchor="end">2.5</text>
<line x1="331.00" y1="499.59" x2="333.00" y2="499.59" stroke="#777" stroke-width="1"/>
<text x="327.90" y="504.09" style="font-family:'Liberation Serif',serif;font-weight:bold;stroke:currentColor;stroke-width:0.25px;font-size:12.4px;color:#000" fill="#000" text-anchor="end">3.0</text>
<text transform="translate(294.60,602.70) rotate(-90)" style="font-family:'Liberation Serif',serif;font-weight:bold;stroke:currentColor;stroke-width:0.25px;font-size:11.5px;color:#000" fill="#000" text-anchor="start" textLength="69.63" lengthAdjust="spacingAndGlyphs">NFI-A Region 1</text>
<text transform="translate(307.20,611.40) rotate(-90)" style="font-family:'Liberation Serif',serif;font-weight:bold;stroke:currentColor;stroke-width:0.25px;font-size:11.5px;color:#000" fill="#000" text-anchor="start" textLength="99.77" lengthAdjust="spacingAndGlyphs">relative enrichment</text>
<rect x="341.70" y="582.00" width="10.50" height="43.80" fill="#fff" stroke="#333" stroke-width="1"/>
<line x1="346.95" y1="578.80" x2="346.95" y2="585.00" stroke="#444" stroke-width="0.9"/>
<line x1="345.20" y1="578.80" x2="348.70" y2="578.80" stroke="#444" stroke-width="0.9"/>
<line x1="345.20" y1="585.00" x2="348.70" y2="585.00" stroke="#444" stroke-width="0.9"/>
<rect x="354.80" y="589.00" width="10.10" height="36.80" fill="#c6c6c6" stroke="#333" stroke-width="1"/>
<line x1="359.85" y1="581.50" x2="359.85" y2="595.40" stroke="#444" stroke-width="0.9"/>
<line x1="358.10" y1="581.50" x2="361.60" y2="581.50" stroke="#444" stroke-width="0.9"/>
<line x1="358.10" y1="595.40" x2="361.60" y2="595.40" stroke="#444" stroke-width="0.9"/>
<rect x="367.20" y="586.80" width="10.90" height="39.00" fill="#000"/>
<line x1="372.65" y1="582.70" x2="372.65" y2="591.00" stroke="#444" stroke-width="0.9"/>
<line x1="370.90" y1="582.70" x2="374.40" y2="582.70" stroke="#444" stroke-width="0.9"/>
<line x1="370.90" y1="591.00" x2="374.40" y2="591.00" stroke="#444" stroke-width="0.9"/>
<rect x="380.20" y="619.00" width="10.10" height="6.80" fill="#fff" stroke="#333" stroke-width="1"/>
<line x1="385.25" y1="617.60" x2="385.25" y2="619.50" stroke="#444" stroke-width="0.9"/>
<line x1="383.50" y1="617.60" x2="387.00" y2="617.60" stroke="#444" stroke-width="0.9"/>
<line x1="383.50" y1="619.50" x2="387.00" y2="619.50" stroke="#444" stroke-width="0.9"/>
<rect x="393.20" y="515.60" width="10.10" height="110.20" fill="#c6c6c6" stroke="#333" stroke-width="1"/>
<line x1="398.25" y1="501.90" x2="398.25" y2="528.50" stroke="#444" stroke-width="0.9"/>
<line x1="396.50" y1="501.90" x2="400.00" y2="501.90" stroke="#444" stroke-width="0.9"/>
<line x1="396.50" y1="528.50" x2="400.00" y2="528.50" stroke="#444" stroke-width="0.9"/>
<rect x="405.60" y="597.10" width="10.70" height="28.70" fill="#000"/>
<line x1="410.95" y1="589.30" x2="410.95" y2="604.60" stroke="#444" stroke-width="0.9"/>
<line x1="409.20" y1="589.30" x2="412.70" y2="589.30" stroke="#444" stroke-width="0.9"/>
<line x1="409.20" y1="604.60" x2="412.70" y2="604.60" stroke="#444" stroke-width="0.9"/>
<rect x="431.10" y="583.60" width="10.30" height="42.20" fill="#fff" stroke="#333" stroke-width="1"/>
<line x1="436.25" y1="577.70" x2="436.25" y2="589.30" stroke="#444" stroke-width="0.9"/>
<line x1="434.50" y1="577.70" x2="438.00" y2="577.70" stroke="#444" stroke-width="0.9"/>
<line x1="434.50" y1="589.30" x2="438.00" y2="589.30" stroke="#444" stroke-width="0.9"/>
<rect x="444.60" y="583.60" width="10.30" height="42.20" fill="#c6c6c6" stroke="#333" stroke-width="1"/>
<line x1="449.75" y1="573.70" x2="449.75" y2="593.80" stroke="#444" stroke-width="0.9"/>
<line x1="448.00" y1="573.70" x2="451.50" y2="573.70" stroke="#444" stroke-width="0.9"/>
<line x1="448.00" y1="593.80" x2="451.50" y2="593.80" stroke="#444" stroke-width="0.9"/>
<rect x="456.70" y="585.20" width="11.30" height="40.60" fill="#000"/>
<line x1="462.35" y1="577.70" x2="462.35" y2="592.50" stroke="#444" stroke-width="0.9"/>
<line x1="460.60" y1="577.70" x2="464.10" y2="577.70" stroke="#444" stroke-width="0.9"/>
<line x1="460.60" y1="592.50" x2="464.10" y2="592.50" stroke="#444" stroke-width="0.9"/>
<rect x="469.90" y="547.00" width="10.60" height="78.80" fill="#fff" stroke="#333" stroke-width="1"/>
<line x1="475.20" y1="538.20" x2="475.20" y2="554.30" stroke="#444" stroke-width="0.9"/>
<line x1="473.45" y1="538.20" x2="476.95" y2="538.20" stroke="#444" stroke-width="0.9"/>
<line x1="473.45" y1="554.30" x2="476.95" y2="554.30" stroke="#444" stroke-width="0.9"/>
<rect x="482.80" y="584.40" width="10.30" height="41.40" fill="#c6c6c6" stroke="#333" stroke-width="1"/>
<line x1="487.95" y1="575.00" x2="487.95" y2="593.30" stroke="#444" stroke-width="0.9"/>
<line x1="486.20" y1="575.00" x2="489.70" y2="575.00" stroke="#444" stroke-width="0.9"/>
<line x1="486.20" y1="593.30" x2="489.70" y2="593.30" stroke="#444" stroke-width="0.9"/>
<rect x="495.20" y="559.40" width="11.30" height="66.40" fill="#000"/>
<line x1="500.85" y1="556.20" x2="500.85" y2="562.50" stroke="#444" stroke-width="0.9"/>
<line x1="499.10" y1="556.20" x2="502.60" y2="556.20" stroke="#444" stroke-width="0.9"/>
<line x1="499.10" y1="562.50" x2="502.60" y2="562.50" stroke="#444" stroke-width="0.9"/>
<polygon points="396.25,493.40 397.06,494.79 398.63,495.13 397.56,496.32 397.72,497.92 396.25,497.27 394.78,497.92 394.94,496.32 393.87,495.13 395.44,494.79" fill="#3a3a3a"/>
<polygon points="400.95,493.40 401.76,494.79 403.33,495.13 402.26,496.32 402.42,497.92 400.95,497.27 399.48,497.92 399.64,496.32 398.57,495.13 400.14,494.79" fill="#3a3a3a"/>
<polygon points="408.85,580.90 409.66,582.29 411.23,582.63 410.16,583.82 410.32,585.42 408.85,584.77 407.38,585.42 407.54,583.82 406.47,582.63 408.04,582.29" fill="#3a3a3a"/>
<polygon points="413.55,580.90 414.36,582.29 415.93,582.63 414.86,583.82 415.02,585.42 413.55,584.77 412.08,585.42 412.24,583.82 411.17,582.63 412.74,582.29" fill="#3a3a3a"/>
<polygon points="485.35,567.50 486.16,568.89 487.73,569.23 486.66,570.42 486.82,572.02 485.35,571.38 483.88,572.02 484.04,570.42 482.97,569.23 484.54,568.89" fill="#3a3a3a"/>
<polygon points="490.05,567.50 490.86,568.89 492.43,569.23 491.36,570.42 491.52,572.02 490.05,571.38 488.58,572.02 488.74,570.42 487.67,569.23 489.24,568.89" fill="#3a3a3a"/>
<polygon points="500.90,549.70 501.71,551.09 503.28,551.43 502.21,552.62 502.37,554.22 500.90,553.58 499.43,554.22 499.59,552.62 498.52,551.43 500.09,551.09" fill="#3a3a3a"/>
<text transform="translate(352.00,631.80) rotate(-90)" style="font-family:'Liberation Serif',serif;font-weight:bold;stroke:currentColor;stroke-width:0.25px;font-size:12px;color:#000" fill="#000" text-anchor="end" textLength="34.02" lengthAdjust="spacingAndGlyphs">pGIPZ</text>
<text transform="translate(365.80,631.80) rotate(-90)" style="font-family:'Liberation Serif',serif;font-weight:bold;stroke:currentColor;stroke-width:0.25px;font-size:12px;color:#000" fill="#000" text-anchor="end" textLength="41.17" lengthAdjust="spacingAndGlyphs">siDicer1</text>
<text transform="translate(376.70,631.80) rotate(-90)" style="font-family:'Liberation Serif',serif;font-weight:bold;stroke:currentColor;stroke-width:0.25px;font-size:11px;color:#000" fill="#000" text-anchor="end" textLength="33.76" lengthAdjust="spacingAndGlyphs">siAgo1</text>
<text transform="translate(392.00,631.80) rotate(-90)" style="font-family:'Liberation Serif',serif;font-weight:bold;stroke:currentColor;stroke-width:0.25px;font-size:12px;color:#000" fill="#000" text-anchor="end" textLength="34.02" lengthAdjust="spacingAndGlyphs">pGIPZ</text>
<text transform="translate(405.00,631.80) rotate(-90)" style="font-family:'Liberation Serif',serif;font-weight:bold;stroke:currentColor;stroke-width:0.25px;font-size:12px;color:#000" fill="#000" text-anchor="end" textLength="41.17" lengthAdjust="spacingAndGlyphs">siDicer1</text>
<text transform="translate(415.20,631.80) rotate(-90)" style="font-family:'Liberation Serif',serif;font-weight:bold;stroke:currentColor;stroke-width:0.25px;font-size:11px;color:#000" fill="#000" text-anchor="end" textLength="33.76" lengthAdjust="spacingAndGlyphs">siAgo1</text>
<text transform="translate(441.60,631.80) rotate(-90)" style="font-family:'Liberation Serif',serif;font-weight:bold;stroke:currentColor;stroke-width:0.25px;font-size:12px;color:#000" fill="#000" text-anchor="end" textLength="34.02" lengthAdjust="spacingAndGlyphs">pGIPZ</text>
<text transform="translate(456.10,631.80) rotate(-90)" style="font-family:'Liberation Serif',serif;font-weight:bold;stroke:currentColor;stroke-width:0.25px;font-size:12px;color:#000" fill="#000" text-anchor="end" textLength="41.17" lengthAdjust="spacingAndGlyphs">siDicer1</text>
<text transform="translate(467.70,631.80) rotate(-90)" style="font-family:'Liberation Serif',serif;font-weight:bold;stroke:currentColor;stroke-width:0.25px;font-size:11px;color:#000" fill="#000" text-anchor="end" textLength="33.76" lengthAdjust="spacingAndGlyphs">siAgo1</text>
<text transform="translate(480.90,631.80) rotate(-90)" style="font-family:'Liberation Serif',serif;font-weight:bold;stroke:currentColor;stroke-width:0.25px;font-size:12px;color:#000" fill="#000" text-anchor="end" textLength="34.02" lengthAdjust="spacingAndGlyphs">pGIPZ</text>
<text transform="translate(495.30,631.80) rotate(-90)" style="font-family:'Liberation Serif',serif;font-weight:bold;stroke:currentColor;stroke-width:0.25px;font-size:12px;color:#000" fill="#000" text-anchor="end" textLength="41.17" lengthAdjust="spacingAndGlyphs">siDicer1</text>
<text transform="translate(506.20,631.80) rotate(-90)" style="font-family:'Liberation Serif',serif;font-weight:bold;stroke:currentColor;stroke-width:0.25px;font-size:11px;color:#000" fill="#000" text-anchor="end" textLength="33.76" lengthAdjust="spacingAndGlyphs">siAgo1</text>
</svg></body></html>
